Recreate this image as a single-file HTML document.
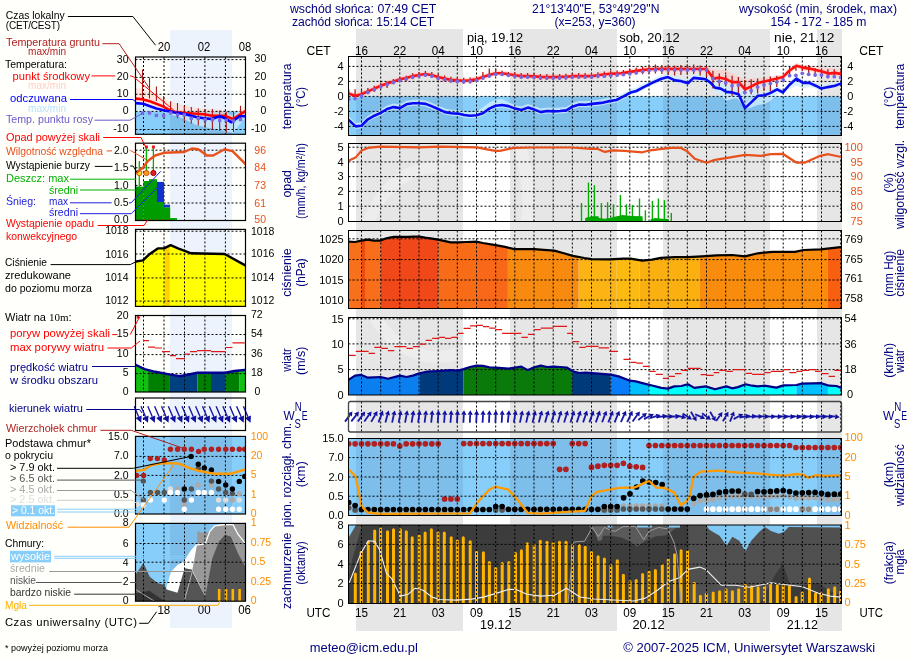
<!DOCTYPE html>
<html><head><meta charset="utf-8"><style>
html,body{margin:0;padding:0;background:#fffffb;}
svg{display:block;font-family:"Liberation Sans",sans-serif;will-change:transform;}
</style></head><body>
<svg width="910" height="660" viewBox="0 0 910 660">
<rect x="0" y="0" width="910" height="660" fill="#fffffb"/>
<rect x="356" y="29" width="107" height="602" fill="#e6e6e6" />
<rect x="510" y="29" width="107" height="602" fill="#e6e6e6" />
<rect x="663" y="29" width="107" height="602" fill="#e6e6e6" />
<rect x="817" y="29" width="25" height="602" fill="#e6e6e6" />
<rect x="349" y="29" width="7" height="602" fill="#ffffff" />
<rect x="463" y="29" width="47" height="602" fill="#ffffff" />
<rect x="617" y="29" width="46" height="602" fill="#ffffff" />
<rect x="770" y="29" width="47" height="602" fill="#ffffff" />
<rect x="170" y="30" width="62" height="598" fill="#edf3fc" />
<clipPath id="cT"><rect x="349" y="56.5" width="492" height="79.0"/></clipPath>
<g clip-path="url(#cT)">
<rect x="349" y="96.4" width="7" height="39.099999999999994" fill="#87cffa" />
<rect x="356" y="96.4" width="107" height="39.099999999999994" fill="#7dbeeb" />
<rect x="463" y="96.4" width="47" height="39.099999999999994" fill="#87cffa" />
<rect x="510" y="96.4" width="107" height="39.099999999999994" fill="#7dbeeb" />
<rect x="617" y="96.4" width="46" height="39.099999999999994" fill="#87cffa" />
<rect x="663" y="96.4" width="107" height="39.099999999999994" fill="#7dbeeb" />
<rect x="770" y="96.4" width="47" height="39.099999999999994" fill="#87cffa" />
<rect x="817" y="96.4" width="24" height="39.099999999999994" fill="#7dbeeb" />
<polygon points="346.0,114.5 348.6,116.5 355.7,122.9 361.4,122.2 367.9,115.8 374.3,112.2 380.7,109.4 387.1,105.5 393.6,103.6 400.0,104.6 406.4,100.8 412.9,99.8 419.3,99.8 425.7,100.4 432.1,102.9 438.6,105.8 445.0,108.6 451.4,109.8 457.9,110.1 464.3,111.5 470.0,112.2 476.4,111.8 482.9,107.3 489.3,102.6 495.7,99.7 502.1,99.0 508.6,102.6 515.0,105.1 521.4,106.5 527.9,104.1 534.3,106.1 540.7,108.6 547.1,107.5 553.6,107.9 560.0,107.5 566.4,106.9 572.9,102.9 579.3,101.1 585.7,101.2 592.1,100.4 601.4,99.4 607.9,97.9 616.4,96.5 623.6,92.9 630.7,88.9 636.4,87.5 643.6,83.6 652.1,79.4 660.7,75.5 667.9,73.6 675.0,76.9 680.7,77.5 687.9,79.8 693.6,74.4 700.7,75.6 705.7,76.3 710.7,79.9 715.0,84.6 720.7,85.6 726.4,88.9 732.1,89.4 738.6,91.3 745.0,105.1 751.4,99.1 757.9,92.7 764.3,92.3 770.7,89.9 777.1,86.3 782.9,89.4 789.3,82.0 796.4,75.6 802.9,79.9 809.3,79.9 815.7,82.7 821.4,85.6 827.9,84.1 835.0,82.7 840.7,80.6 846.0,80.0 846.0,85.0 840.7,85.5 835.0,87.4 827.9,88.6 821.4,90.2 815.7,88.5 809.3,87.1 802.9,88.5 796.4,85.6 789.3,88.8 782.9,94.0 777.1,93.8 770.7,100.7 764.3,103.9 757.9,105.0 751.4,107.5 745.0,109.6 738.6,98.3 732.1,99.0 726.4,100.7 720.7,95.3 715.0,92.1 710.7,86.8 705.7,82.6 700.7,81.2 693.6,80.4 687.9,85.8 680.7,83.5 675.0,82.9 667.9,79.6 660.7,81.5 652.1,85.4 643.6,89.6 636.4,93.5 630.7,94.9 623.6,98.9 616.4,102.5 607.9,103.9 601.4,105.4 592.1,106.4 585.7,107.2 579.3,107.1 572.9,108.9 566.4,112.9 560.0,113.5 553.6,113.9 547.1,113.5 540.7,114.6 534.3,112.1 527.9,110.1 521.4,112.5 515.0,111.1 508.6,108.6 502.1,107.5 495.7,108.2 489.3,111.1 482.9,115.8 476.4,117.8 470.0,118.2 464.3,117.5 457.9,116.1 451.4,115.8 445.0,114.6 438.6,111.8 432.1,108.9 425.7,106.4 419.3,105.8 412.9,105.8 406.4,106.8 400.0,110.6 393.6,109.6 387.1,111.5 380.7,115.4 374.3,118.2 367.9,121.8 361.4,128.2 355.7,128.9 348.6,122.5 346.0,120.5" fill="rgba(205,238,255,0.8)" />
<polygon points="706.0,80.0 715.0,82.0 726.0,84.0 745.0,90.0 757.9,90.0 745.0,108.0 732.0,92.4 715.0,87.6" fill="rgba(205,238,255,0.6)" />
<polygon points="346.0,90.2 348.6,90.8 355.0,92.9 361.4,91.5 367.9,88.6 374.3,85.8 380.7,82.9 387.1,80.8 393.6,78.6 400.0,76.5 406.4,75.1 412.9,73.3 419.3,72.2 425.0,71.2 431.4,72.2 437.9,74.3 444.3,75.8 450.7,76.9 457.1,77.6 463.6,77.9 470.0,77.6 476.4,76.5 482.9,74.3 489.3,72.2 495.7,70.5 502.1,70.5 508.6,71.5 515.0,72.5 521.4,73.3 527.9,73.3 534.3,73.6 540.7,74.1 547.1,74.3 553.6,74.3 560.0,74.1 566.4,73.9 572.9,73.3 579.3,73.3 585.7,73.3 592.1,73.3 601.4,71.9 607.9,71.2 614.3,70.8 620.7,70.5 627.1,69.6 633.6,68.6 640.0,67.6 646.4,66.8 652.9,66.2 659.3,66.1 706.4,66.2 713.6,69.0 719.3,69.8 726.4,70.7 732.1,73.3 738.6,76.3 745.0,79.3 751.4,78.6 757.9,77.9 764.3,77.2 770.7,76.5 777.1,75.7 782.9,74.3 789.3,67.9 796.4,62.9 802.9,64.8 809.3,65.8 815.7,66.5 822.1,67.2 828.6,67.9 835.0,68.7 840.7,69.3 846.0,69.3 846.0,76.8 840.7,76.7 835.0,75.7 828.6,76.4 822.1,74.2 815.7,72.8 809.3,71.4 802.9,70.4 796.4,68.5 789.3,73.5 782.9,79.9 777.1,81.4 770.7,82.8 764.3,84.2 757.9,85.7 751.4,89.2 745.0,92.1 738.6,84.9 732.1,84.9 726.4,82.1 719.3,80.4 713.6,81.4 706.4,71.8 659.3,71.7 652.9,71.8 646.4,72.4 640.0,73.2 633.6,74.2 627.1,75.2 620.7,76.1 614.3,76.4 607.9,76.8 601.4,77.5 592.1,78.9 585.7,78.9 579.3,78.9 572.9,78.9 566.4,79.5 560.0,79.7 553.6,79.9 547.1,79.9 540.7,79.7 534.3,79.2 527.9,78.9 521.4,78.9 515.0,78.1 508.6,77.1 502.1,76.1 495.7,76.1 489.3,77.8 482.9,79.9 476.4,82.1 470.0,83.2 463.6,83.5 457.1,83.2 450.7,82.5 444.3,81.4 437.9,79.9 431.4,77.8 425.0,76.8 419.3,77.8 412.9,78.9 406.4,80.7 400.0,82.1 393.6,84.2 387.1,86.4 380.7,88.5 374.3,91.4 367.9,94.2 361.4,97.1 355.0,98.5 348.6,96.4 346.0,95.8" fill="rgba(255,195,190,0.55)" />
</g>
<path d="M348.5 66.4H841.5M348.5 81.4H841.5M348.5 96.4H841.5M348.5 111.4H841.5M348.5 126.4H841.5" stroke="#000" stroke-width="1" stroke-dasharray="2 2" fill="none"/>
<path d="M361.5 56.5V135.5M380.7 56.5V135.5M399.8 56.5V135.5M419.0 56.5V135.5M438.2 56.5V135.5M457.3 56.5V135.5M476.5 56.5V135.5M495.7 56.5V135.5M514.8 56.5V135.5M534.0 56.5V135.5M553.2 56.5V135.5M572.3 56.5V135.5M591.5 56.5V135.5M610.7 56.5V135.5M629.8 56.5V135.5M649.0 56.5V135.5M668.2 56.5V135.5M687.3 56.5V135.5M706.5 56.5V135.5M725.7 56.5V135.5M744.8 56.5V135.5M764.0 56.5V135.5M783.2 56.5V135.5M802.3 56.5V135.5M821.5 56.5V135.5M840.7 56.5V135.5" stroke="#000" stroke-width="1" stroke-dasharray="2 2" fill="none"/>
<g clip-path="url(#cT)">
<path d="M348.7 89.0V98.0M355.1 89.3V97.9M361.5 90.0V97.0M367.9 87.9V93.6M374.3 85.7V92.1M380.7 83.0V88.5M387.1 81.4V87.9M393.4 79.0V84.0M399.8 77.0V82.0M406.2 75.7V81.4M412.6 73.2V79.2M419.0 72.1V78.1M425.4 71.1V77.1M431.8 72.1V78.1M438.2 74.2V80.2M444.6 75.6V81.6M450.9 76.7V82.7M457.3 77.4V83.4M463.7 77.7V83.7M470.1 77.4V83.4M476.5 76.4V81.4M482.9 72.1V79.3M489.3 68.6V76.4M495.7 68.6V75.0M502.1 70.7V75.0M508.4 72.0V76.5M514.8 72.3V78.3M521.2 73.1V79.1M527.6 73.1V79.1M534.0 73.4V79.4M540.4 73.9V79.9M546.8 74.1V80.1M553.2 74.1V80.1M559.6 73.9V79.9M565.9 73.7V79.7M572.3 73.2V79.2M578.7 73.1V79.1M585.1 73.1V79.1M591.5 73.1V79.1M597.9 72.2V78.2M604.3 71.4V77.4M610.7 70.8V76.8M617.1 70.5V76.5M623.4 69.9V75.9M629.8 69.0V75.0M636.2 67.5V74.5M642.6 66.5V74.3M649.0 65.6V73.5M655.4 64.5V73.6M661.8 65.0V74.0M668.2 65.5V75.0M674.6 65.5V75.5M680.9 65.0V75.0M687.3 64.5V74.5M693.7 64.5V74.0M700.1 65.5V75.5M706.5 66.0V77.0M712.9 70.7V88.6M719.3 73.6V86.4M725.7 75.0V85.7M732.1 75.7V95.7M738.4 77.1V93.6M744.8 80.0V92.9M751.2 79.3V94.3M757.6 78.6V93.6M764.0 77.9V90.7M770.4 76.4V91.4M776.8 75.7V87.1M783.2 75.7V80.0M789.6 67.1V74.3M795.9 65.0V70.7M802.3 65.7V70.7M808.7 65.0V73.6M815.1 67.9V76.4M821.5 69.3V76.4M827.9 69.3V78.6M834.3 69.3V77.9M840.7 70.9V76.9" stroke="#a81c1c" stroke-width="1.3" fill="none"/>
<polyline points="346.0,93.0 348.6,93.6 355.0,95.7 361.4,94.3 367.9,91.4 374.3,88.6 380.7,85.7 387.1,83.6 393.6,81.4 400.0,79.3 406.4,77.9 412.9,76.1 419.3,75.0 425.0,74.0 431.4,75.0 437.9,77.1 444.3,78.6 450.7,79.7 457.1,80.4 463.6,80.7 470.0,80.4 476.4,79.3 482.9,77.1 489.3,75.0 495.7,73.3 502.1,73.3 508.6,74.3 515.0,75.3 521.4,76.1 527.9,76.1 534.3,76.4 540.7,76.9 547.1,77.1 553.6,77.1 560.0,76.9 566.4,76.7 572.9,76.1 579.3,76.1 585.7,76.1 592.1,76.1 601.4,74.7 607.9,74.0 614.3,73.6 620.7,73.3 627.1,72.4 633.6,71.4 640.0,70.4 646.4,69.6 652.9,69.0 659.3,68.9 706.4,69.0 713.6,78.6 719.3,77.6 726.4,79.3 732.1,82.1 738.6,82.1 745.0,89.3 751.4,86.4 757.9,82.9 764.3,81.4 770.7,80.0 777.1,78.6 782.9,77.1 789.3,70.7 796.4,65.7 802.9,67.6 809.3,68.6 815.7,70.0 822.1,71.4 828.6,73.6 835.0,72.9 840.7,73.9 846.0,74.0" fill="none" stroke="#ff1010" stroke-width="2.6" stroke-linejoin="round" />
<polyline points="346.0,118.0 348.6,120.0 355.7,126.4 361.4,125.7 367.9,119.3 374.3,115.7 380.7,112.9 387.1,109.0 393.6,107.1 400.0,108.1 406.4,104.3 412.9,103.3 419.3,103.3 425.7,103.9 432.1,106.4 438.6,109.3 445.0,112.1 451.4,113.3 457.9,113.6 464.3,115.0 470.0,115.7 476.4,115.3 482.9,113.3 489.3,108.6 495.7,105.7 502.1,105.0 508.6,106.1 515.0,108.6 521.4,110.0 527.9,107.6 534.3,109.6 540.7,112.1 547.1,111.0 553.6,111.4 560.0,111.0 566.4,110.4 572.9,106.4 579.3,104.6 585.7,104.7 592.1,103.9 601.4,102.9 607.9,101.4 616.4,100.0 623.6,96.4 630.7,92.4 636.4,91.0 643.6,87.1 652.1,82.9 660.7,79.0 667.9,77.1 675.0,80.4 680.7,81.0 687.9,83.3 693.6,77.9 700.7,78.6 705.7,79.3 710.7,82.9 715.0,87.6 720.7,88.6 726.4,91.9 732.1,92.4 738.6,94.3 745.0,108.1 751.4,102.1 757.9,95.7 764.3,95.3 770.7,92.9 777.1,89.3 782.9,92.4 789.3,85.0 796.4,78.6 802.9,82.9 809.3,82.9 815.7,85.7 821.4,88.6 827.9,87.1 835.0,85.7 840.7,83.6 846.0,83.0" fill="none" stroke="#0a0af0" stroke-width="2.6" stroke-linejoin="round" />
<g fill="#7868e0"><circle cx="348.7" cy="99.3" r="1.9"/><circle cx="355.1" cy="98.6" r="1.9"/><circle cx="361.5" cy="96.0" r="1.9"/><circle cx="367.9" cy="92.4" r="1.9"/><circle cx="374.3" cy="89.6" r="1.9"/><circle cx="380.7" cy="86.7" r="1.9"/><circle cx="387.1" cy="84.6" r="1.9"/><circle cx="393.4" cy="82.5" r="1.9"/><circle cx="399.8" cy="80.4" r="1.9"/><circle cx="406.2" cy="78.9" r="1.9"/><circle cx="412.6" cy="77.2" r="1.9"/><circle cx="419.0" cy="76.1" r="1.9"/><circle cx="425.4" cy="75.1" r="1.9"/><circle cx="431.8" cy="76.1" r="1.9"/><circle cx="438.2" cy="78.2" r="1.9"/><circle cx="444.6" cy="79.6" r="1.9"/><circle cx="450.9" cy="80.7" r="1.9"/><circle cx="457.3" cy="81.4" r="1.9"/><circle cx="463.7" cy="81.7" r="1.9"/><circle cx="470.1" cy="81.4" r="1.9"/><circle cx="476.5" cy="80.3" r="1.9"/><circle cx="482.9" cy="78.1" r="1.9"/><circle cx="489.3" cy="76.0" r="1.9"/><circle cx="495.7" cy="74.3" r="1.9"/><circle cx="502.1" cy="74.3" r="1.9"/><circle cx="508.4" cy="75.3" r="1.9"/><circle cx="514.8" cy="76.3" r="1.9"/><circle cx="521.2" cy="77.1" r="1.9"/><circle cx="527.6" cy="77.1" r="1.9"/><circle cx="534.0" cy="77.4" r="1.9"/><circle cx="540.4" cy="77.9" r="1.9"/><circle cx="546.8" cy="78.1" r="1.9"/><circle cx="553.2" cy="78.1" r="1.9"/><circle cx="559.6" cy="77.9" r="1.9"/><circle cx="565.9" cy="77.7" r="1.9"/><circle cx="572.3" cy="77.2" r="1.9"/><circle cx="578.7" cy="77.1" r="1.9"/><circle cx="585.1" cy="77.1" r="1.9"/><circle cx="591.5" cy="77.1" r="1.9"/><circle cx="597.9" cy="76.0" r="1.9"/><circle cx="604.3" cy="76.2" r="1.9"/><circle cx="610.7" cy="75.6" r="1.9"/><circle cx="617.1" cy="75.0" r="1.9"/><circle cx="623.4" cy="74.6" r="1.9"/><circle cx="629.8" cy="73.8" r="1.9"/><circle cx="636.2" cy="72.8" r="1.9"/><circle cx="642.6" cy="71.6" r="1.9"/><circle cx="649.0" cy="70.6" r="1.9"/><circle cx="655.4" cy="70.0" r="1.9"/><circle cx="661.8" cy="69.9" r="1.9"/><circle cx="668.2" cy="69.9" r="1.9"/><circle cx="674.6" cy="69.9" r="1.9"/><circle cx="680.9" cy="69.9" r="1.9"/><circle cx="687.3" cy="70.0" r="1.9"/><circle cx="693.7" cy="70.0" r="1.9"/><circle cx="700.1" cy="70.0" r="1.9"/><circle cx="706.5" cy="70.1" r="1.9"/><circle cx="712.9" cy="78.7" r="1.9"/><circle cx="719.3" cy="81.4" r="1.9"/><circle cx="725.7" cy="82.9" r="1.9"/><circle cx="732.1" cy="85.7" r="1.9"/><circle cx="738.4" cy="85.0" r="1.9"/><circle cx="744.8" cy="92.4" r="1.9"/><circle cx="751.2" cy="90.7" r="1.9"/><circle cx="757.6" cy="87.1" r="1.9"/><circle cx="764.0" cy="85.0" r="1.9"/><circle cx="770.4" cy="83.6" r="1.9"/><circle cx="776.8" cy="82.1" r="1.9"/><circle cx="783.2" cy="80.0" r="1.9"/><circle cx="789.6" cy="75.7" r="1.9"/><circle cx="795.9" cy="75.3" r="1.9"/><circle cx="802.3" cy="73.3" r="1.9"/><circle cx="808.7" cy="74.3" r="1.9"/><circle cx="815.1" cy="75.0" r="1.9"/><circle cx="821.5" cy="75.0" r="1.9"/><circle cx="827.9" cy="76.4" r="1.9"/><circle cx="834.3" cy="76.7" r="1.9"/><circle cx="840.7" cy="77.6" r="1.9"/></g>
</g>
<rect x="348.5" y="56.5" width="493.0" height="79.0" fill="none" stroke="#000" stroke-width="1"/>
<clipPath id="cO"><rect x="349" y="143.5" width="492" height="78.0"/></clipPath>
<g clip-path="url(#cO)" opacity="0.3"><path d="M456.7 170.2A76 95 0 1 0 456.7 353.8" stroke="#fff" stroke-width="12" fill="none"/><path d="M519 143C529 180 531 200 527 222" stroke="#fff" stroke-width="13" fill="none"/></g>
<path d="M348.5 147.2H841.5M348.5 161.9H841.5M348.5 176.6H841.5M348.5 191.4H841.5M348.5 206.2H841.5" stroke="#000" stroke-width="1" stroke-dasharray="2 2" fill="none"/>
<path d="M361.5 143.5V221.5M380.7 143.5V221.5M399.8 143.5V221.5M419.0 143.5V221.5M438.2 143.5V221.5M457.3 143.5V221.5M476.5 143.5V221.5M495.7 143.5V221.5M514.8 143.5V221.5M534.0 143.5V221.5M553.2 143.5V221.5M572.3 143.5V221.5M591.5 143.5V221.5M610.7 143.5V221.5M629.8 143.5V221.5M649.0 143.5V221.5M668.2 143.5V221.5M687.3 143.5V221.5M706.5 143.5V221.5M725.7 143.5V221.5M744.8 143.5V221.5M764.0 143.5V221.5M783.2 143.5V221.5M802.3 143.5V221.5M821.5 143.5V221.5M840.7 143.5V221.5" stroke="#000" stroke-width="1" stroke-dasharray="2 2" fill="none"/>
<g clip-path="url(#cO)">
<path d="M581.5 221V203M588.5 221V182.5M594.4 221V185.2M601.4 221V203M607.6 221V202.3M613.5 221V204.3M620.4 221V195M626.4 221V204.3M632.4 221V205M639.5 221V198.4M645.4 221V210.2M652.4 221V201M658.4 221V198.4M664.4 221V200.3M671.3 221V212.9" stroke="#00b000" stroke-width="1.4" fill="none"/>
<polygon points="585.2,221.0 585.2,218.1 591.8,216.2 598.4,216.2 599.0,218.1 605.0,218.8 609.6,218.1 616.8,216.2 622.7,215.1 630.7,215.9 642.5,216.2 642.8,221.0" fill="#00a800" />
<polygon points="650.4,221.0 650.4,219.5 655.0,218.1 662.3,218.8 668.2,219.0 668.6,221.0" fill="#00a800" />
<polyline points="346.0,161.5 348.5,160.7 355.5,157.6 361.7,150.5 367.9,147.9 380.2,146.7 418.8,147.4 440.0,146.7 476.9,147.4 485.7,149.1 495.3,150.9 500.0,150.9 513.8,147.9 533.6,147.5 571.2,147.5 591.0,148.9 597.9,148.9 604.8,151.9 612.7,150.3 624.6,150.9 642.4,152.3 650.3,150.3 670.1,147.9 680.9,147.9 686.8,150.9 694.7,158.8 706.6,162.7 713.5,160.2 727.4,157.8 745.2,154.8 761.0,155.8 770.9,154.2 782.7,153.8 796.6,162.7 804.5,162.7 820.3,155.8 828.2,154.2 840.1,156.8 846.0,157.0" fill="none" stroke="#e8501c" stroke-width="2.2" stroke-linejoin="round" />
</g>
<rect x="348.5" y="143.5" width="493.0" height="78.0" fill="none" stroke="#000" stroke-width="1"/>
<clipPath id="cP"><rect x="349" y="230.5" width="492" height="78.0"/></clipPath>
<g clip-path="url(#cP)">
<rect x="349" y="230.5" width="12.399999999999977" height="78.0" fill="#f8701c" />
<rect x="361.4" y="230.5" width="3.6000000000000227" height="78.0" fill="#ee4a14" />
<rect x="365" y="230.5" width="15.699999999999989" height="78.0" fill="#f86e1a" />
<rect x="380.7" y="230.5" width="57.900000000000034" height="78.0" fill="#f04818" />
<rect x="438.6" y="230.5" width="38.39999999999998" height="78.0" fill="#f86c18" />
<rect x="477" y="230.5" width="30.899999999999977" height="78.0" fill="#f86818" />
<rect x="507.9" y="230.5" width="70.70000000000005" height="78.0" fill="#f88a10" />
<rect x="578.6" y="230.5" width="37.799999999999955" height="78.0" fill="#fbb414" />
<rect x="616.4" y="230.5" width="22.899999999999977" height="78.0" fill="#fdbb12" />
<rect x="639.3" y="230.5" width="60.700000000000045" height="78.0" fill="#fbb012" />
<rect x="700" y="230.5" width="127.89999999999998" height="78.0" fill="#f98c0c" />
<rect x="827.9" y="230.5" width="13.100000000000023" height="78.0" fill="#f86010" />
<polygon points="346.0,229.5 346.0,241.5 348.6,241.6 355.0,242.0 361.4,240.6 367.9,239.7 373.6,240.6 380.0,240.6 386.4,238.3 393.6,236.9 407.9,236.9 413.6,236.6 419.3,236.6 425.0,237.7 432.1,238.7 437.9,239.7 445.0,241.1 450.7,242.3 457.9,242.3 466.4,242.0 476.4,241.6 482.9,243.0 495.7,245.1 505.0,246.9 514.3,249.1 534.3,249.1 547.1,250.1 554.3,250.6 562.9,253.0 572.9,255.9 584.3,258.0 591.4,259.1 609.3,259.3 623.6,258.6 630.7,258.6 642.1,260.7 652.1,259.7 660.7,257.9 675.0,257.1 687.9,257.1 702.1,256.4 716.4,255.4 732.1,255.0 745.0,256.4 757.9,253.3 772.1,251.9 795.0,251.9 803.6,250.0 820.7,249.3 840.7,247.1 846.0,247.0 845.0,229.5" fill="#fff"/>
</g>
<g clip-path="url(#cP)">
<clipPath id="cPabove"><polygon points="346.0,229.5 346.0,241.5 348.6,241.6 355.0,242.0 361.4,240.6 367.9,239.7 373.6,240.6 380.0,240.6 386.4,238.3 393.6,236.9 407.9,236.9 413.6,236.6 419.3,236.6 425.0,237.7 432.1,238.7 437.9,239.7 445.0,241.1 450.7,242.3 457.9,242.3 466.4,242.0 476.4,241.6 482.9,243.0 495.7,245.1 505.0,246.9 514.3,249.1 534.3,249.1 547.1,250.1 554.3,250.6 562.9,253.0 572.9,255.9 584.3,258.0 591.4,259.1 609.3,259.3 623.6,258.6 630.7,258.6 642.1,260.7 652.1,259.7 660.7,257.9 675.0,257.1 687.9,257.1 702.1,256.4 716.4,255.4 732.1,255.0 745.0,256.4 757.9,253.3 772.1,251.9 795.0,251.9 803.6,250.0 820.7,249.3 840.7,247.1 846.0,247.0 845.0,229.5"/></clipPath>
<g clip-path="url(#cPabove)">
<rect x="349" y="230.5" width="7" height="78.0" fill="#ffffff" />
<rect x="356" y="230.5" width="107" height="78.0" fill="#e6e6e6" />
<rect x="463" y="230.5" width="47" height="78.0" fill="#ffffff" />
<rect x="510" y="230.5" width="107" height="78.0" fill="#e6e6e6" />
<rect x="617" y="230.5" width="46" height="78.0" fill="#ffffff" />
<rect x="663" y="230.5" width="107" height="78.0" fill="#e6e6e6" />
<rect x="770" y="230.5" width="47" height="78.0" fill="#ffffff" />
<rect x="817" y="230.5" width="24" height="78.0" fill="#e6e6e6" />
</g>
</g>
<path d="M348.5 238.8H841.5M348.5 259.6H841.5M348.5 280.0H841.5M348.5 300.1H841.5" stroke="#000" stroke-width="1" stroke-dasharray="2 2" fill="none"/>
<path d="M361.5 230.5V308.5M380.7 230.5V308.5M399.8 230.5V308.5M419.0 230.5V308.5M438.2 230.5V308.5M457.3 230.5V308.5M476.5 230.5V308.5M495.7 230.5V308.5M514.8 230.5V308.5M534.0 230.5V308.5M553.2 230.5V308.5M572.3 230.5V308.5M591.5 230.5V308.5M610.7 230.5V308.5M629.8 230.5V308.5M649.0 230.5V308.5M668.2 230.5V308.5M687.3 230.5V308.5M706.5 230.5V308.5M725.7 230.5V308.5M744.8 230.5V308.5M764.0 230.5V308.5M783.2 230.5V308.5M802.3 230.5V308.5M821.5 230.5V308.5M840.7 230.5V308.5" stroke="#000" stroke-width="1" stroke-dasharray="2 2" fill="none"/>
<g clip-path="url(#cP)">
<polyline points="346.0,241.5 348.6,241.6 355.0,242.0 361.4,240.6 367.9,239.7 373.6,240.6 380.0,240.6 386.4,238.3 393.6,236.9 407.9,236.9 413.6,236.6 419.3,236.6 425.0,237.7 432.1,238.7 437.9,239.7 445.0,241.1 450.7,242.3 457.9,242.3 466.4,242.0 476.4,241.6 482.9,243.0 495.7,245.1 505.0,246.9 514.3,249.1 534.3,249.1 547.1,250.1 554.3,250.6 562.9,253.0 572.9,255.9 584.3,258.0 591.4,259.1 609.3,259.3 623.6,258.6 630.7,258.6 642.1,260.7 652.1,259.7 660.7,257.9 675.0,257.1 687.9,257.1 702.1,256.4 716.4,255.4 732.1,255.0 745.0,256.4 757.9,253.3 772.1,251.9 795.0,251.9 803.6,250.0 820.7,249.3 840.7,247.1 846.0,247.0" fill="none" stroke="#000" stroke-width="2.2" stroke-linejoin="round" />
</g>
<rect x="348.5" y="230.5" width="493.0" height="78.0" fill="none" stroke="#000" stroke-width="1"/>
<clipPath id="cV"><rect x="349" y="317.5" width="492" height="77.5"/></clipPath>
<g clip-path="url(#cV)">
<clipPath id="cVw"><polygon points="346.0,397.0 346.0,381.0 348.6,379.9 355.0,375.6 361.4,374.9 367.9,377.7 380.7,377.0 387.9,378.7 400.0,375.6 406.4,377.0 412.9,375.6 419.3,373.4 426.4,371.7 437.9,371.0 450.7,370.1 457.9,370.6 463.6,369.1 470.0,367.0 476.4,365.6 482.9,365.9 489.3,367.3 495.7,367.7 508.6,368.7 515.0,367.7 521.4,366.7 527.9,370.1 534.3,367.3 540.7,365.6 547.1,367.0 553.6,366.7 560.0,367.0 567.1,367.7 572.9,371.3 579.3,373.0 585.7,372.7 598.6,373.6 610.7,374.7 618.6,376.4 630.0,380.7 635.7,381.4 644.3,383.6 650.0,385.0 661.4,387.9 667.9,388.6 674.3,386.4 681.4,386.0 687.9,384.3 694.3,387.9 705.7,386.4 715.0,389.3 726.4,386.4 732.1,388.3 737.9,387.1 745.7,384.3 752.1,385.7 757.9,386.4 764.3,385.7 776.4,387.6 783.6,385.4 796.4,385.0 802.1,383.6 812.1,383.3 820.7,383.1 829.3,385.7 836.4,386.0 841.4,387.9 846.0,388.0 845.0,397.0"/></clipPath>
<g clip-path="url(#cVw)">
<rect x="349" y="317.5" width="70.30000000000001" height="77.5" fill="#0a80f0" />
<rect x="419.3" y="317.5" width="44.30000000000001" height="77.5" fill="#003a7a" />
<rect x="463.6" y="317.5" width="108.5" height="77.5" fill="#0a7a0a" />
<rect x="572.1" y="317.5" width="38.60000000000002" height="77.5" fill="#003a7a" />
<rect x="610.7" y="317.5" width="19.299999999999955" height="77.5" fill="#0a7cf8" />
<rect x="630" y="317.5" width="19.299999999999955" height="77.5" fill="#00c0ff" />
<rect x="649.3" y="317.5" width="147.10000000000002" height="77.5" fill="#00ffff" />
<rect x="796.4" y="317.5" width="31.5" height="77.5" fill="#00c0ff" />
<rect x="827.9" y="317.5" width="13.100000000000023" height="77.5" fill="#00ffff" />
</g>
</g>
<clipPath id="cVa"><polygon points="346.0,317.5 346.0,381.0 348.6,379.9 355.0,375.6 361.4,374.9 367.9,377.7 380.7,377.0 387.9,378.7 400.0,375.6 406.4,377.0 412.9,375.6 419.3,373.4 426.4,371.7 437.9,371.0 450.7,370.1 457.9,370.6 463.6,369.1 470.0,367.0 476.4,365.6 482.9,365.9 489.3,367.3 495.7,367.7 508.6,368.7 515.0,367.7 521.4,366.7 527.9,370.1 534.3,367.3 540.7,365.6 547.1,367.0 553.6,366.7 560.0,367.0 567.1,367.7 572.9,371.3 579.3,373.0 585.7,372.7 598.6,373.6 610.7,374.7 618.6,376.4 630.0,380.7 635.7,381.4 644.3,383.6 650.0,385.0 661.4,387.9 667.9,388.6 674.3,386.4 681.4,386.0 687.9,384.3 694.3,387.9 705.7,386.4 715.0,389.3 726.4,386.4 732.1,388.3 737.9,387.1 745.7,384.3 752.1,385.7 757.9,386.4 764.3,385.7 776.4,387.6 783.6,385.4 796.4,385.0 802.1,383.6 812.1,383.3 820.7,383.1 829.3,385.7 836.4,386.0 841.4,387.9 846.0,388.0 846.0,317.5"/></clipPath>
<g clip-path="url(#cVa)"><g clip-path="url(#cV)" opacity="0.3"><path d="M456.7 170.2A76 95 0 1 0 456.7 353.8" stroke="#fff" stroke-width="12" fill="none"/></g></g>
<path d="M348.5 318.8H841.5M348.5 343.9H841.5M348.5 369.6H841.5" stroke="#000" stroke-width="1" stroke-dasharray="2 2" fill="none"/>
<path d="M361.5 317.5V395.0M380.7 317.5V395.0M399.8 317.5V395.0M419.0 317.5V395.0M438.2 317.5V395.0M457.3 317.5V395.0M476.5 317.5V395.0M495.7 317.5V395.0M514.8 317.5V395.0M534.0 317.5V395.0M553.2 317.5V395.0M572.3 317.5V395.0M591.5 317.5V395.0M610.7 317.5V395.0M629.8 317.5V395.0M649.0 317.5V395.0M668.2 317.5V395.0M687.3 317.5V395.0M706.5 317.5V395.0M725.7 317.5V395.0M744.8 317.5V395.0M764.0 317.5V395.0M783.2 317.5V395.0M802.3 317.5V395.0M821.5 317.5V395.0M840.7 317.5V395.0" stroke="#000" stroke-width="1" stroke-dasharray="2 2" fill="none"/>
<g clip-path="url(#cV)">
<polyline points="346.0,381.0 348.6,379.9 355.0,375.6 361.4,374.9 367.9,377.7 380.7,377.0 387.9,378.7 400.0,375.6 406.4,377.0 412.9,375.6 419.3,373.4 426.4,371.7 437.9,371.0 450.7,370.1 457.9,370.6 463.6,369.1 470.0,367.0 476.4,365.6 482.9,365.9 489.3,367.3 495.7,367.7 508.6,368.7 515.0,367.7 521.4,366.7 527.9,370.1 534.3,367.3 540.7,365.6 547.1,367.0 553.6,366.7 560.0,367.0 567.1,367.7 572.9,371.3 579.3,373.0 585.7,372.7 598.6,373.6 610.7,374.7 618.6,376.4 630.0,380.7 635.7,381.4 644.3,383.6 650.0,385.0 661.4,387.9 667.9,388.6 674.3,386.4 681.4,386.0 687.9,384.3 694.3,387.9 705.7,386.4 715.0,389.3 726.4,386.4 732.1,388.3 737.9,387.1 745.7,384.3 752.1,385.7 757.9,386.4 764.3,385.7 776.4,387.6 783.6,385.4 796.4,385.0 802.1,383.6 812.1,383.3 820.7,383.1 829.3,385.7 836.4,386.0 841.4,387.9 846.0,388.0" fill="none" stroke="#000088" stroke-width="2.2" stroke-linejoin="round" />
<path d="M348.6 355.3H355.7M355.7 351.3H368.6M368.6 353.4H375M374.3 347.3H381.4M381.4 348.4H387.9M387.9 350.6H394.3M394.3 346.6H400M400 346.6H406.4M406.4 348.4H412.9M412.9 346.6H419.3M419.3 344.1H425.7M425.7 340.3H432.1M432.1 338.4H439.3M439.3 337.4H445M445 338.4H451.4M451.4 337.4H457.9M457.9 333.4H463.6M463.6 328.4H470.7M470 325.9H476.4M476.4 325.3H482.9M482.9 326.7H489.3M489.3 328.1H495.7M495.7 329.6H502.1M502.1 333.4H515M515 333.4H521.4M521.4 337.4H527.9M527.9 334.4H534.3M534.3 329.6H540.7M540.7 328.1H553.6M553.6 326.3H567.1M567.1 333.4H572.9M572.9 341.6H579.3M579.3 347.4H585.7M585.7 346.3H598.6M598.6 347.8H609M609 351.4H618M623.5 359.4H630.7M630.7 362.4H636.4M636.4 363.1H642.9M642.9 366.4H649.3M649.3 371.4H655.7M655.7 374.3H662.9M662.9 378.3H668.6M668.6 376.4H675M675 373.6H681.4M681.4 370.3H687.9M687.9 368.3H700.7M700.7 374.6H706.4M706.4 375.4H713.6M713.6 372.6H719.3M719.3 370.3H726.4M726.4 371.4H732.9M733.6 369.7H745M745.7 373.3H752.1M752.1 374.3H764.3M764.3 372.6H770.7M770.7 371.4H783.6M783.6 369.7H789.3M789.3 372.6H796.4M796.4 371.4H802.1M802.1 370.3H809.3M809.3 369.7H816.4M815 371.4H820.7M821.4 373.6H828.6M828.6 376.4H835M834.3 370.3H840.7" stroke="#e01818" stroke-width="1.2" fill="none"/>
</g>
<rect x="348.5" y="317.5" width="493.0" height="77.5" fill="none" stroke="#000" stroke-width="1"/>
<path d="M361.5 401.5V432.0M380.7 401.5V432.0M399.8 401.5V432.0M419.0 401.5V432.0M438.2 401.5V432.0M457.3 401.5V432.0M476.5 401.5V432.0M495.7 401.5V432.0M514.8 401.5V432.0M534.0 401.5V432.0M553.2 401.5V432.0M572.3 401.5V432.0M591.5 401.5V432.0M610.7 401.5V432.0M629.8 401.5V432.0M649.0 401.5V432.0M668.2 401.5V432.0M687.3 401.5V432.0M706.5 401.5V432.0M725.7 401.5V432.0M744.8 401.5V432.0M764.0 401.5V432.0M783.2 401.5V432.0M802.3 401.5V432.0M821.5 401.5V432.0M840.7 401.5V432.0" stroke="#000" stroke-width="1" stroke-dasharray="2 2" fill="none"/>
<path d="M345.0 421.6L349.8 415.1M351.3 421.4L356.2 415.1M357.8 421.5L362.5 415.1M364.3 421.6L368.9 415.1M371.2 421.9L375.1 415.0M378.5 422.4L381.3 414.9M385.4 422.5L387.5 414.8M392.1 422.6L393.8 414.8M398.6 422.6L400.2 414.8M405.1 422.7L406.5 414.8M411.6 422.7L412.9 414.8M418.1 422.7L419.2 414.8M424.6 422.7L425.6 414.8M431.2 422.7L432.0 414.8M437.7 422.7L438.3 414.8M444.1 422.7L444.7 414.8M450.5 422.7L451.1 414.8M457.0 422.7L457.4 414.8M463.4 422.7L463.8 414.8M469.8 422.7L470.2 414.8M476.2 422.7L476.6 414.8M482.6 422.7L483.0 414.8M489.0 422.7L489.3 414.8M495.4 422.7L495.7 414.8M501.7 422.7L502.1 414.8M507.8 422.7L508.6 414.8M513.8 422.7L515.1 414.8M519.9 422.6L521.6 414.8M526.2 422.6L528.0 414.8M532.5 422.6L534.4 414.8M538.8 422.5L540.8 414.8M545.1 422.5L547.2 414.8M551.4 422.5L553.7 414.8M557.8 422.5L560.1 414.8M564.1 422.5L566.5 414.8M570.4 422.5L572.9 414.8M576.8 422.4L579.3 414.8M583.1 422.4L585.7 414.8M589.4 422.4L592.1 414.8M595.8 422.4L598.5 414.9M602.1 422.3L604.9 414.9M608.3 422.3L611.3 414.9M614.6 422.3L617.7 414.9M620.9 422.2L624.2 414.9M627.2 422.2L630.6 414.9M632.6 421.6L637.2 415.1M638.3 420.0L643.4 415.9M644.1 419.1L649.9 416.0M650.1 418.1L656.3 416.2M656.3 417.3L662.8 416.4M662.7 416.5L669.2 416.5M669.1 416.3L675.6 416.5M675.6 415.1L681.9 416.8M682.6 413.6L688.2 417.0M690.9 411.8L694.2 417.4M695.1 414.2L701.0 416.9M702.1 413.2L707.3 417.1M710.1 411.8L713.4 417.4M716.1 421.0L719.8 415.7M722.9 421.3L726.2 415.6M730.0 421.6L732.4 415.6M733.6 419.1L739.3 416.0M739.4 417.5L745.8 416.3M745.7 417.0L752.2 416.4M752.1 416.5L758.6 416.5M758.5 416.3L765.0 416.5M764.9 416.2L771.4 416.6M771.3 416.1L777.8 416.6M777.7 415.9L784.2 416.6M784.1 415.8L790.5 416.6M790.5 415.6L796.9 416.7M796.9 415.6L803.3 416.7M803.3 415.8L809.7 416.6M809.6 415.9L816.1 416.6M816.0 416.0L822.5 416.6M822.4 415.9L828.9 416.6M828.8 415.7L835.3 416.6" stroke="#1818a8" stroke-width="1.8" fill="none"/>
<path d="M352.4 411.4L351.9 416.6L347.6 413.6ZM358.9 411.6L358.2 416.7L354.1 413.5ZM365.2 411.5L364.6 416.6L360.5 413.5ZM371.5 411.4L371.0 416.6L366.8 413.6ZM377.4 411.1L377.4 416.3L372.9 413.7ZM382.9 410.6L383.7 415.8L378.8 414.0ZM388.7 410.5L390.0 415.5L385.0 414.1ZM394.8 410.4L396.4 415.3L391.3 414.2ZM401.0 410.4L402.7 415.3L397.6 414.3ZM407.3 410.3L409.1 415.2L404.0 414.3ZM413.6 410.3L415.5 415.2L410.3 414.4ZM419.9 410.3L421.8 415.1L416.7 414.4ZM426.1 410.3L428.2 415.1L423.0 414.4ZM432.4 410.3L434.5 415.0L429.4 414.5ZM438.6 410.3L440.9 415.0L435.7 414.6ZM445.0 410.3L447.3 414.9L442.1 414.6ZM451.3 410.3L453.7 414.9L448.5 414.6ZM457.7 410.3L460.0 414.9L454.8 414.6ZM464.1 410.3L466.4 414.9L461.2 414.6ZM470.4 410.3L472.8 414.9L467.6 414.6ZM476.8 410.3L479.2 414.9L474.0 414.6ZM483.2 410.3L485.6 414.9L480.4 414.6ZM489.5 410.3L491.9 414.9L486.8 414.6ZM495.9 410.3L498.3 414.8L493.1 414.7ZM502.4 410.3L504.7 414.9L499.6 414.6ZM509.1 410.3L511.2 415.0L506.0 414.5ZM515.9 410.3L517.7 415.2L512.6 414.3ZM522.5 410.4L524.1 415.3L519.1 414.2ZM529.0 410.4L530.5 415.4L525.5 414.2ZM535.5 410.4L536.9 415.4L531.9 414.2ZM542.0 410.5L543.4 415.5L538.3 414.1ZM548.5 410.5L549.8 415.5L544.7 414.1ZM554.9 410.5L556.2 415.5L551.2 414.1ZM561.3 410.5L562.5 415.6L557.6 414.1ZM567.8 410.5L568.9 415.6L564.0 414.1ZM574.2 410.5L575.3 415.6L570.4 414.0ZM580.7 410.6L581.7 415.7L576.8 414.0ZM587.1 410.6L588.1 415.7L583.2 414.0ZM593.6 410.6L594.5 415.7L589.6 414.0ZM600.0 410.6L600.9 415.7L596.0 414.0ZM606.5 410.7L607.3 415.8L602.5 413.9ZM613.0 410.7L613.7 415.8L608.9 413.9ZM619.5 410.7L620.1 415.9L615.3 413.9ZM626.0 410.8L626.5 416.0L621.8 413.8ZM632.5 410.8L632.9 416.0L628.2 413.8ZM639.9 411.4L639.4 416.6L635.1 413.6ZM646.9 413.0L645.0 417.9L641.8 413.8ZM653.9 413.9L651.1 418.3L648.7 413.7ZM660.6 414.9L657.1 418.7L655.6 413.7ZM667.2 415.7L663.1 418.9L662.4 413.8ZM673.7 416.5L669.2 419.1L669.2 413.9ZM680.1 416.7L675.5 419.1L675.6 413.9ZM686.3 417.9L681.2 419.3L682.6 414.2ZM692.0 419.4L686.8 419.2L689.5 414.8ZM696.6 421.2L692.0 418.7L696.5 416.0ZM705.1 418.8L699.9 419.3L702.1 414.6ZM710.9 419.8L705.7 419.2L708.9 415.0ZM715.7 421.2L711.2 418.7L715.6 416.0ZM722.4 412.0L722.0 417.2L717.7 414.2ZM728.4 411.7L728.4 416.9L723.9 414.3ZM734.1 411.4L734.8 416.6L730.0 414.6ZM743.3 413.9L740.6 418.3L738.1 413.7ZM750.2 415.5L746.3 418.9L745.3 413.8ZM756.7 416.0L752.4 419.0L752.0 413.8ZM763.1 416.5L758.6 419.1L758.6 413.9ZM769.5 416.7L764.9 419.1L765.1 413.9ZM775.9 416.8L771.2 419.2L771.5 414.0ZM782.3 416.9L777.6 419.2L778.0 414.0ZM788.6 417.1L783.9 419.2L784.4 414.0ZM795.0 417.2L790.2 419.2L790.9 414.1ZM801.4 417.4L796.5 419.2L797.3 414.1ZM807.8 417.4L802.9 419.2L803.7 414.1ZM814.2 417.2L809.4 419.2L810.1 414.1ZM820.6 417.1L815.8 419.2L816.4 414.0ZM827.0 417.0L822.3 419.2L822.7 414.0ZM833.4 417.1L828.6 419.2L829.2 414.0ZM839.7 417.3L834.9 419.2L835.6 414.1Z" fill="#1010a0"/>
<rect x="348.5" y="401.5" width="493.0" height="30.5" fill="none" stroke="#444" stroke-width="1.3" rx="2"/>
<clipPath id="cB"><rect x="349" y="438.5" width="492" height="77.0"/></clipPath>
<g clip-path="url(#cB)">
<rect x="349" y="438.5" width="7" height="77.0" fill="#87cffa" />
<rect x="356" y="438.5" width="107" height="77.0" fill="#7dbeeb" />
<rect x="463" y="438.5" width="47" height="77.0" fill="#87cffa" />
<rect x="510" y="438.5" width="107" height="77.0" fill="#7dbeeb" />
<rect x="617" y="438.5" width="46" height="77.0" fill="#87cffa" />
<rect x="663" y="438.5" width="107" height="77.0" fill="#7dbeeb" />
<rect x="770" y="438.5" width="47" height="77.0" fill="#87cffa" />
<rect x="817" y="438.5" width="24" height="77.0" fill="#7dbeeb" />
<g fill="#aaaaaa"><circle cx="623.4" cy="506.0" r="2.85"/><circle cx="629.8" cy="506.0" r="2.85"/><circle cx="636.2" cy="506.0" r="2.85"/><circle cx="642.6" cy="506.0" r="2.85"/><circle cx="649.0" cy="506.0" r="2.85"/><circle cx="655.4" cy="506.0" r="2.85"/><circle cx="661.8" cy="506.0" r="2.85"/><circle cx="693.7" cy="503.3" r="2.85"/><circle cx="700.1" cy="500.6" r="2.85"/><circle cx="706.5" cy="499.9" r="2.85"/><circle cx="712.9" cy="499.4" r="2.85"/><circle cx="719.3" cy="497.4" r="2.85"/><circle cx="725.7" cy="496.7" r="2.85"/><circle cx="732.1" cy="496.0" r="2.85"/><circle cx="738.4" cy="496.0" r="2.85"/><circle cx="744.8" cy="496.0" r="2.85"/><circle cx="751.2" cy="496.3" r="2.85"/><circle cx="757.6" cy="496.5" r="2.85"/><circle cx="764.0" cy="496.8" r="2.85"/><circle cx="770.4" cy="496.4" r="2.85"/><circle cx="776.8" cy="495.9" r="2.85"/><circle cx="783.2" cy="495.5" r="2.85"/><circle cx="789.6" cy="496.6" r="2.85"/><circle cx="795.9" cy="498.0" r="2.85"/><circle cx="802.3" cy="497.8" r="2.85"/><circle cx="808.7" cy="497.6" r="2.85"/><circle cx="815.1" cy="497.4" r="2.85"/><circle cx="821.5" cy="498.3" r="2.85"/><circle cx="827.9" cy="499.4" r="2.85"/><circle cx="834.3" cy="499.2" r="2.85"/><circle cx="840.7" cy="499.0" r="2.85"/></g>
<g fill="#555555"><circle cx="348.7" cy="508.0" r="2.85"/><circle cx="355.1" cy="510.0" r="2.85"/><circle cx="495.7" cy="510.0" r="2.85"/><circle cx="502.1" cy="510.0" r="2.85"/><circle cx="604.3" cy="510.0" r="2.85"/><circle cx="610.7" cy="510.0" r="2.85"/><circle cx="617.1" cy="510.0" r="2.85"/><circle cx="623.4" cy="509.0" r="2.85"/><circle cx="629.8" cy="509.0" r="2.85"/><circle cx="636.2" cy="509.0" r="2.85"/><circle cx="642.6" cy="509.0" r="2.85"/><circle cx="649.0" cy="509.0" r="2.85"/><circle cx="655.4" cy="509.0" r="2.85"/><circle cx="661.8" cy="509.0" r="2.85"/><circle cx="744.8" cy="494.0" r="2.85"/><circle cx="751.2" cy="494.3" r="2.85"/></g>
<g fill="#ffffff"><circle cx="706.5" cy="509.2" r="2.85"/><circle cx="712.9" cy="509.2" r="2.85"/><circle cx="719.3" cy="509.2" r="2.85"/><circle cx="725.7" cy="509.2" r="2.85"/><circle cx="732.1" cy="509.2" r="2.85"/><circle cx="738.4" cy="509.2" r="2.85"/><circle cx="744.8" cy="509.2" r="2.85"/><circle cx="751.2" cy="509.2" r="2.85"/><circle cx="757.6" cy="509.2" r="2.85"/><circle cx="764.0" cy="509.2" r="2.85"/><circle cx="770.4" cy="509.2" r="2.85"/><circle cx="776.8" cy="509.2" r="2.85"/><circle cx="783.2" cy="509.2" r="2.85"/><circle cx="789.6" cy="509.2" r="2.85"/><circle cx="795.9" cy="509.2" r="2.85"/><circle cx="802.3" cy="509.2" r="2.85"/><circle cx="808.7" cy="509.2" r="2.85"/><circle cx="815.1" cy="509.2" r="2.85"/><circle cx="821.5" cy="509.2" r="2.85"/><circle cx="827.9" cy="509.2" r="2.85"/><circle cx="834.3" cy="509.2" r="2.85"/><circle cx="840.7" cy="509.2" r="2.85"/></g>
<g fill="#888888"><circle cx="770.4" cy="509.2" r="2.85"/><circle cx="776.8" cy="509.2" r="2.85"/><circle cx="802.3" cy="509.2" r="2.85"/><circle cx="808.7" cy="509.2" r="2.85"/></g>
<g fill="#000000"><circle cx="348.7" cy="502.5" r="2.85"/><circle cx="355.1" cy="505.5" r="2.85"/><circle cx="361.5" cy="509.5" r="2.85"/><circle cx="367.9" cy="509.5" r="2.85"/><circle cx="374.3" cy="509.5" r="2.85"/><circle cx="380.7" cy="509.5" r="2.85"/><circle cx="387.1" cy="509.5" r="2.85"/><circle cx="393.4" cy="509.5" r="2.85"/><circle cx="399.8" cy="509.5" r="2.85"/><circle cx="406.2" cy="509.5" r="2.85"/><circle cx="412.6" cy="509.5" r="2.85"/><circle cx="419.0" cy="509.5" r="2.85"/><circle cx="425.4" cy="509.5" r="2.85"/><circle cx="431.8" cy="509.5" r="2.85"/><circle cx="438.2" cy="509.5" r="2.85"/><circle cx="444.6" cy="509.5" r="2.85"/><circle cx="450.9" cy="509.5" r="2.85"/><circle cx="457.3" cy="509.5" r="2.85"/><circle cx="463.7" cy="509.5" r="2.85"/><circle cx="470.1" cy="509.5" r="2.85"/><circle cx="476.5" cy="509.5" r="2.85"/><circle cx="482.9" cy="509.5" r="2.85"/><circle cx="489.3" cy="509.5" r="2.85"/><circle cx="495.7" cy="506.5" r="2.85"/><circle cx="502.1" cy="506.5" r="2.85"/><circle cx="508.4" cy="509.3" r="2.85"/><circle cx="514.8" cy="509.3" r="2.85"/><circle cx="521.2" cy="509.3" r="2.85"/><circle cx="527.6" cy="509.3" r="2.85"/><circle cx="534.0" cy="509.3" r="2.85"/><circle cx="540.4" cy="509.3" r="2.85"/><circle cx="546.8" cy="509.3" r="2.85"/><circle cx="553.2" cy="509.3" r="2.85"/><circle cx="559.6" cy="509.3" r="2.85"/><circle cx="565.9" cy="509.3" r="2.85"/><circle cx="572.3" cy="509.3" r="2.85"/><circle cx="578.7" cy="509.3" r="2.85"/><circle cx="585.1" cy="509.3" r="2.85"/><circle cx="591.5" cy="509.3" r="2.85"/><circle cx="597.9" cy="509.3" r="2.85"/><circle cx="604.3" cy="506.5" r="2.85"/><circle cx="610.7" cy="506.5" r="2.85"/><circle cx="617.1" cy="506.5" r="2.85"/><circle cx="668.2" cy="509.0" r="2.85"/><circle cx="674.6" cy="509.0" r="2.85"/><circle cx="680.9" cy="509.0" r="2.85"/><circle cx="687.3" cy="509.0" r="2.85"/><circle cx="693.7" cy="498.3" r="2.85"/><circle cx="700.1" cy="495.6" r="2.85"/><circle cx="706.5" cy="494.9" r="2.85"/><circle cx="712.9" cy="494.4" r="2.85"/><circle cx="719.3" cy="492.4" r="2.85"/><circle cx="725.7" cy="491.7" r="2.85"/><circle cx="732.1" cy="491.0" r="2.85"/><circle cx="738.4" cy="491.0" r="2.85"/><circle cx="757.6" cy="491.5" r="2.85"/><circle cx="764.0" cy="491.8" r="2.85"/><circle cx="770.4" cy="491.4" r="2.85"/><circle cx="776.8" cy="490.9" r="2.85"/><circle cx="783.2" cy="490.5" r="2.85"/><circle cx="789.6" cy="491.6" r="2.85"/><circle cx="795.9" cy="493.0" r="2.85"/><circle cx="802.3" cy="492.8" r="2.85"/><circle cx="808.7" cy="492.6" r="2.85"/><circle cx="815.1" cy="492.4" r="2.85"/><circle cx="821.5" cy="493.3" r="2.85"/><circle cx="827.9" cy="494.4" r="2.85"/><circle cx="834.3" cy="494.2" r="2.85"/><circle cx="840.7" cy="494.0" r="2.85"/><circle cx="623.6" cy="497.8" r="2.85"/><circle cx="630.0" cy="493.8" r="2.85"/><circle cx="636.5" cy="487.0" r="2.85"/><circle cx="642.8" cy="481.0" r="2.85"/><circle cx="649.3" cy="482.0" r="2.85"/><circle cx="655.7" cy="482.5" r="2.85"/><circle cx="662.2" cy="484.5" r="2.85"/></g>
<g fill="#b02020"><circle cx="348.7" cy="443.8" r="2.85"/><circle cx="355.1" cy="443.8" r="2.85"/><circle cx="361.5" cy="443.8" r="2.85"/><circle cx="367.9" cy="443.8" r="2.85"/><circle cx="374.3" cy="443.8" r="2.85"/><circle cx="380.7" cy="443.8" r="2.85"/><circle cx="387.1" cy="443.8" r="2.85"/><circle cx="393.4" cy="443.8" r="2.85"/><circle cx="399.8" cy="446.0" r="2.85"/><circle cx="406.2" cy="443.8" r="2.85"/><circle cx="412.6" cy="443.8" r="2.85"/><circle cx="419.0" cy="443.8" r="2.85"/><circle cx="425.4" cy="443.8" r="2.85"/><circle cx="431.8" cy="443.8" r="2.85"/><circle cx="438.2" cy="443.8" r="2.85"/><circle cx="444.6" cy="499.0" r="2.85"/><circle cx="450.9" cy="499.0" r="2.85"/><circle cx="457.3" cy="499.0" r="2.85"/><circle cx="463.7" cy="443.6" r="2.85"/><circle cx="470.1" cy="443.6" r="2.85"/><circle cx="476.5" cy="443.6" r="2.85"/><circle cx="482.9" cy="443.6" r="2.85"/><circle cx="489.3" cy="443.6" r="2.85"/><circle cx="495.7" cy="443.6" r="2.85"/><circle cx="502.1" cy="443.6" r="2.85"/><circle cx="508.4" cy="443.6" r="2.85"/><circle cx="514.8" cy="443.6" r="2.85"/><circle cx="521.2" cy="443.6" r="2.85"/><circle cx="527.6" cy="443.6" r="2.85"/><circle cx="534.0" cy="443.6" r="2.85"/><circle cx="540.4" cy="443.6" r="2.85"/><circle cx="546.8" cy="443.6" r="2.85"/><circle cx="553.2" cy="443.6" r="2.85"/><circle cx="559.6" cy="469.3" r="2.85"/><circle cx="565.9" cy="469.3" r="2.85"/><circle cx="572.3" cy="443.6" r="2.85"/><circle cx="578.7" cy="443.6" r="2.85"/><circle cx="585.1" cy="443.6" r="2.85"/><circle cx="591.5" cy="467.2" r="2.85"/><circle cx="597.9" cy="466.2" r="2.85"/><circle cx="604.3" cy="465.3" r="2.85"/><circle cx="610.7" cy="465.3" r="2.85"/><circle cx="617.1" cy="465.3" r="2.85"/><circle cx="623.4" cy="463.3" r="2.85"/><circle cx="629.8" cy="466.2" r="2.85"/><circle cx="636.2" cy="466.8" r="2.85"/><circle cx="642.6" cy="467.4" r="2.85"/><circle cx="649.0" cy="445.5" r="2.85"/><circle cx="655.4" cy="445.5" r="2.85"/><circle cx="661.8" cy="445.5" r="2.85"/><circle cx="668.2" cy="445.5" r="2.85"/><circle cx="674.6" cy="445.5" r="2.85"/><circle cx="680.9" cy="445.5" r="2.85"/><circle cx="687.3" cy="445.5" r="2.85"/><circle cx="693.7" cy="445.5" r="2.85"/><circle cx="700.1" cy="445.5" r="2.85"/><circle cx="706.5" cy="445.5" r="2.85"/><circle cx="712.9" cy="445.5" r="2.85"/><circle cx="719.3" cy="445.5" r="2.85"/><circle cx="725.7" cy="445.5" r="2.85"/><circle cx="732.1" cy="445.5" r="2.85"/><circle cx="738.4" cy="445.5" r="2.85"/><circle cx="744.8" cy="445.5" r="2.85"/><circle cx="751.2" cy="445.5" r="2.85"/><circle cx="757.6" cy="445.5" r="2.85"/><circle cx="764.0" cy="445.5" r="2.85"/><circle cx="770.4" cy="445.5" r="2.85"/><circle cx="776.8" cy="445.5" r="2.85"/><circle cx="783.2" cy="445.5" r="2.85"/><circle cx="789.6" cy="445.5" r="2.85"/><circle cx="795.9" cy="447.5" r="2.85"/><circle cx="802.3" cy="447.5" r="2.85"/><circle cx="808.7" cy="447.5" r="2.85"/><circle cx="815.1" cy="447.5" r="2.85"/><circle cx="821.5" cy="447.5" r="2.85"/><circle cx="827.9" cy="447.5" r="2.85"/><circle cx="834.3" cy="447.5" r="2.85"/><circle cx="840.7" cy="447.5" r="2.85"/></g>
<polyline points="346.0,468.0 348.8,469.5 355.4,476.1 361.7,506.4 367.9,512.5 380.0,513.8 469.8,513.4 478.6,501.0 489.2,489.7 495.3,486.7 505.0,488.8 507.9,489.4 514.8,496.4 527.7,512.8 539.6,513.6 585.0,510.8 591.4,496.4 597.0,491.8 610.8,489.4 618.7,487.9 634.5,487.5 638.4,485.9 646.4,481.9 649.3,481.1 656.2,487.5 664.2,487.9 674.0,492.4 680.9,505.3 686.8,501.3 689.8,495.4 693.7,476.6 700.7,471.6 719.4,470.7 727.4,471.6 739.2,472.6 755.0,473.2 768.9,474.6 784.7,475.6 796.6,474.0 804.5,475.2 808.4,478.0 815.4,475.2 824.3,476.0 845.0,475.2" fill="none" stroke="#ff9a00" stroke-width="2.3" stroke-linejoin="round" />
</g>
<path d="M348.5 457.6H841.5M348.5 477.0H841.5M348.5 496.2H841.5" stroke="#000" stroke-width="1" stroke-dasharray="2 2" fill="none"/>
<path d="M361.5 438.5V515.5M380.7 438.5V515.5M399.8 438.5V515.5M419.0 438.5V515.5M438.2 438.5V515.5M457.3 438.5V515.5M476.5 438.5V515.5M495.7 438.5V515.5M514.8 438.5V515.5M534.0 438.5V515.5M553.2 438.5V515.5M572.3 438.5V515.5M591.5 438.5V515.5M610.7 438.5V515.5M629.8 438.5V515.5M649.0 438.5V515.5M668.2 438.5V515.5M687.3 438.5V515.5M706.5 438.5V515.5M725.7 438.5V515.5M744.8 438.5V515.5M764.0 438.5V515.5M783.2 438.5V515.5M802.3 438.5V515.5M821.5 438.5V515.5M840.7 438.5V515.5" stroke="#000" stroke-width="1" stroke-dasharray="2 2" fill="none"/>
<rect x="348.5" y="438.5" width="493.0" height="77.0" fill="none" stroke="#000" stroke-width="1"/>
<clipPath id="cC"><rect x="349" y="525.0" width="492" height="78.5"/></clipPath>
<g clip-path="url(#cC)">
<rect x="349" y="525.0" width="492" height="78.5" fill="#3c3c3c" />
<polygon points="349.0,525.0 362.0,525.0 352.0,560.0 349.0,575.0" fill="#555555" />
<polygon points="349.0,525.0 356.0,525.0 349.0,537.0" fill="#87cffa" />
<polygon points="680.0,525.0 841.0,525.0 841.0,603.5 680.0,603.5" fill="#505050" />
<polygon points="705.7,525.0 709.7,529.9 719.6,535.8 726.5,545.7 732.4,536.8 739.3,540.8 745.3,551.6 751.2,540.8 759.1,531.9 765.0,526.9 771.0,530.9 778.9,533.8 783.8,531.9 788.8,526.9 841.0,527.4 841.0,525.0" fill="#80c8f4" />
<polygon points="589.0,525.0 683.0,525.0 683.0,526.6 675.4,528.2 667.7,535.1 655.4,536.6 646.2,540.5 636.9,546.6 629.2,541.2 621.5,537.4 610.8,535.8 600.0,535.8 589.0,527.0" fill="#5a5a5a" />
<polygon points="593.0,527.0 604.0,527.0 602.0,540.0 598.0,541.0" fill="#666666" />
<rect x="607.7" y="525.0" width="4.599999999999909" height="2.5" fill="#80c8f4" />
<rect x="637" y="525.0" width="15" height="2.5" fill="#80c8f4" />
<rect x="667.7" y="525.0" width="12.299999999999955" height="2.5" fill="#80c8f4" />
<polygon points="760.0,603.0 775.0,575.0 782.8,563.5 790.8,587.2 818.4,583.3 830.3,591.2 841.0,595.0 841.0,603.0" fill="#3a3a3a" />
<polygon points="680.0,525.0 688.0,525.0 690.0,603.0 680.0,603.0" fill="#3c3c3c" />
</g>
<g clip-path="url(#cC)">
<g fill="#ffb400"><rect x="353.8" y="572.4" width="3" height="32.6" rx="1.5"/><rect x="359.7" y="550.7" width="3" height="54.3" rx="1.5"/><rect x="366.8" y="540.8" width="3" height="64.2" rx="1.5"/><rect x="373.2" y="529.5" width="3" height="75.5" rx="1.5"/><rect x="379.1" y="527.5" width="3" height="77.5" rx="1.5"/><rect x="386.0" y="530.3" width="3" height="74.7" rx="1.5"/><rect x="392.0" y="528.3" width="3" height="76.7" rx="1.5"/><rect x="398.9" y="528.3" width="3" height="76.7" rx="1.5"/><rect x="404.8" y="530.3" width="3" height="74.7" rx="1.5"/><rect x="410.7" y="536.2" width="3" height="68.8" rx="1.5"/><rect x="417.7" y="534.2" width="3" height="70.8" rx="1.5"/><rect x="423.6" y="531.5" width="3" height="73.5" rx="1.5"/><rect x="429.9" y="528.3" width="3" height="76.7" rx="1.5"/><rect x="436.5" y="531.5" width="3" height="73.5" rx="1.5"/><rect x="442.8" y="531.5" width="3" height="73.5" rx="1.5"/><rect x="449.7" y="536.2" width="3" height="68.8" rx="1.5"/><rect x="455.8" y="539.4" width="3" height="65.6" rx="1.5"/><rect x="461.8" y="536.2" width="3" height="68.8" rx="1.5"/><rect x="468.7" y="540.2" width="3" height="64.8" rx="1.5"/><rect x="475.0" y="550.7" width="3" height="54.3" rx="1.5"/><rect x="481.9" y="551.2" width="3" height="53.8" rx="1.5"/><rect x="487.9" y="561.1" width="3" height="43.9" rx="1.5"/><rect x="494.2" y="567.1" width="3" height="37.9" rx="1.5"/><rect x="500.7" y="561.9" width="3" height="43.1" rx="1.5"/><rect x="507.3" y="561.1" width="3" height="43.9" rx="1.5"/><rect x="514.0" y="552.0" width="3" height="53.0" rx="1.5"/><rect x="519.9" y="549.3" width="3" height="55.7" rx="1.5"/><rect x="525.8" y="542.2" width="3" height="62.8" rx="1.5"/><rect x="532.7" y="544.1" width="3" height="60.9" rx="1.5"/><rect x="538.8" y="539.8" width="3" height="65.2" rx="1.5"/><rect x="545.5" y="540.8" width="3" height="64.2" rx="1.5"/><rect x="551.7" y="541.8" width="3" height="63.2" rx="1.5"/><rect x="558.0" y="540.8" width="3" height="64.2" rx="1.5"/><rect x="564.5" y="540.8" width="3" height="64.2" rx="1.5"/><rect x="570.9" y="544.1" width="3" height="60.9" rx="1.5"/><rect x="577.8" y="544.1" width="3" height="60.9" rx="1.5"/><rect x="583.7" y="545.7" width="3" height="59.3" rx="1.5"/><rect x="590.0" y="551.1" width="3" height="53.9" rx="1.5"/><rect x="596.6" y="555.2" width="3" height="49.8" rx="1.5"/><rect x="602.9" y="557.6" width="3" height="47.4" rx="1.5"/><rect x="609.4" y="563.9" width="3" height="41.1" rx="1.5"/><rect x="615.8" y="559.2" width="3" height="45.8" rx="1.5"/><rect x="621.9" y="573.8" width="3" height="31.2" rx="1.5"/><rect x="628.6" y="580.3" width="3" height="24.7" rx="1.5"/><rect x="634.7" y="578.9" width="3" height="26.1" rx="1.5"/><rect x="641.1" y="573.0" width="3" height="32.0" rx="1.5"/><rect x="647.6" y="570.4" width="3" height="34.6" rx="1.5"/><rect x="653.9" y="569.0" width="3" height="36.0" rx="1.5"/><rect x="660.8" y="563.9" width="3" height="41.1" rx="1.5"/><rect x="666.8" y="558.2" width="3" height="46.8" rx="1.5"/><rect x="673.1" y="553.2" width="3" height="51.8" rx="1.5"/><rect x="679.6" y="549.3" width="3" height="55.7" rx="1.5"/><rect x="686.0" y="550.1" width="3" height="54.9" rx="1.5"/><rect x="692.7" y="581.7" width="3" height="23.3" rx="1.5"/><rect x="698.9" y="594.8" width="3" height="10.2" rx="1.5"/><rect x="704.8" y="592.8" width="3" height="12.2" rx="1.5"/><rect x="711.7" y="591.6" width="3" height="13.4" rx="1.5"/><rect x="718.1" y="590.2" width="3" height="14.8" rx="1.5"/><rect x="724.6" y="588.2" width="3" height="16.8" rx="1.5"/><rect x="730.9" y="590.2" width="3" height="14.8" rx="1.5"/><rect x="737.2" y="588.2" width="3" height="16.8" rx="1.5"/><rect x="743.8" y="583.7" width="3" height="21.3" rx="1.5"/><rect x="750.1" y="585.3" width="3" height="19.7" rx="1.5"/><rect x="756.6" y="586.3" width="3" height="18.7" rx="1.5"/><rect x="763.0" y="585.3" width="3" height="19.7" rx="1.5"/><rect x="769.1" y="583.3" width="3" height="21.7" rx="1.5"/><rect x="775.8" y="584.3" width="3" height="20.7" rx="1.5"/><rect x="781.7" y="584.3" width="3" height="20.7" rx="1.5"/><rect x="787.9" y="584.9" width="3" height="20.1" rx="1.5"/><rect x="794.6" y="596.1" width="3" height="8.9" rx="1.5"/><rect x="800.7" y="591.6" width="3" height="13.4" rx="1.5"/><rect x="808.0" y="577.4" width="3" height="27.6" rx="1.5"/><rect x="814.0" y="592.2" width="3" height="12.8" rx="1.5"/><rect x="819.5" y="592.2" width="3" height="12.8" rx="1.5"/><rect x="826.8" y="588.2" width="3" height="16.8" rx="1.5"/><rect x="833.2" y="586.3" width="3" height="18.7" rx="1.5"/><rect x="839.1" y="590.2" width="3" height="14.8" rx="1.5"/></g>
<polyline points="346.0,590.0 349.0,583.3 361.2,552.6 368.3,540.8 374.7,541.4 379.6,549.7 386.5,573.4 391.5,578.3 400.4,596.1 408.3,594.2 415.2,588.2 423.1,590.2 432.0,597.1 439.9,599.5 455.8,600.1 471.6,599.1 483.4,597.1 495.3,593.6 509.2,589.2 516.1,589.6 526.9,594.2 540.7,596.1 554.6,595.2 566.4,588.2 580.0,597.0 594.0,599.0 633.7,601.0 645.5,598.1 657.4,590.2 669.3,581.3 680.0,577.4 687.9,569.4 699.8,567.1 705.7,569.4 711.6,575.4 721.5,585.3 735.4,585.3 749.2,587.2 759.1,585.3 771.0,582.9 790.8,585.3 802.6,586.8 818.4,593.2 830.3,596.1 845.0,597.5" fill="none" stroke="#f0f0f0" stroke-width="1.1" stroke-linejoin="round" />
<polyline points="568.0,603.0 573.8,542.0 584.6,541.2 592.3,527.4 598.5,536.6 604.6,527.4 610.8,530.5 615.4,531.2 623.0,526.6 635.4,526.6 643.8,539.7 649.2,531.2 658.5,527.4 667.7,528.9 673.8,542.0 676.9,554.3 681.0,603.0" fill="none" stroke="#a0a0a0" stroke-width="1" stroke-linejoin="round" />
</g>
<path d="M348.5 544.4H841.5M348.5 564.2H841.5M348.5 583.6H841.5" stroke="#000" stroke-width="1" stroke-dasharray="2 2" fill="none"/>
<path d="M361.5 525.0V603.5M380.7 525.0V603.5M399.8 525.0V603.5M419.0 525.0V603.5M438.2 525.0V603.5M457.3 525.0V603.5M476.5 525.0V603.5M495.7 525.0V603.5M514.8 525.0V603.5M534.0 525.0V603.5M553.2 525.0V603.5M572.3 525.0V603.5M591.5 525.0V603.5M610.7 525.0V603.5M629.8 525.0V603.5M649.0 525.0V603.5M668.2 525.0V603.5M687.3 525.0V603.5M706.5 525.0V603.5M725.7 525.0V603.5M744.8 525.0V603.5M764.0 525.0V603.5M783.2 525.0V603.5M802.3 525.0V603.5M821.5 525.0V603.5M840.7 525.0V603.5" stroke="#000" stroke-width="1" stroke-dasharray="2 2" fill="none"/>
<rect x="348.5" y="525.0" width="493.0" height="78.5" fill="none" stroke="#000" stroke-width="1"/>
<clipPath id="m1"><rect x="136" y="57.0" width="109.5" height="77.30000000000001"/></clipPath>
<g clip-path="url(#m1)">
<rect x="136" y="111.4" width="34" height="22.900000000000006" fill="#87cffa" />
<rect x="170" y="111.4" width="62" height="22.900000000000006" fill="#7dbeeb" />
<rect x="232" y="111.4" width="13.5" height="22.900000000000006" fill="#87cffa" />
<polygon points="134.0,103.0 135.3,103.1 143.2,103.8 156.4,108.4 166.9,111.0 174.8,112.4 185.4,114.3 196.0,117.0 203.8,118.3 211.8,119.0 219.7,116.3 225.0,118.3 231.5,122.3 239.5,116.3 247.0,116.3 247.0,118.0 244.7,118.3 232.9,132.8 222.3,130.2 206.5,127.5 196.0,124.9 182.7,118.3 169.6,114.3 163.0,111.7 135.3,110.4 134.0,110.0" fill="rgba(200,235,255,0.85)" />
<polygon points="134.0,88.0 135.3,88.0 143.2,89.3 156.4,94.6 169.6,101.2 182.7,105.1 196.0,107.7 209.0,109.0 222.3,109.7 232.9,115.7 244.7,106.4 247.0,105.0 247.0,113.0 244.7,114.7 232.9,122.0 225.0,118.9 211.8,118.7 203.8,117.3 185.4,116.0 172.2,114.7 163.0,109.4 149.8,104.2 141.9,102.2 135.3,101.5 134.0,101.5" fill="rgba(255,215,205,0.6)" />
</g>
<path d="M135.5 59.6H245.5M135.5 77.4H245.5M135.5 94.3H245.5M135.5 111.4H245.5M135.5 129.5H245.5" stroke="#000" stroke-width="1" stroke-dasharray="2 2" fill="none"/>
<path d="M143.5 57.0V134.3M164.0 57.0V134.3M184.5 57.0V134.3M204.9 57.0V134.3M225.4 57.0V134.3" stroke="#000" stroke-width="1" stroke-dasharray="2 2" fill="none"/>
<g clip-path="url(#m1)">
<path d="M142.5 69.5V98.5M149.5 78.1V98.5M156.4 86.6V101M163.6 95.9V106.4M170.6 101.2V111.7M177.5 103.1V118.3M184.3 105.8V121M191.3 107.1V123.6M198.3 108.4V125.6M205.2 109V127.5M212.4 109V129.5M219.7 110.4V130.8M226.3 111.7V132.8M233.5 111.7V132.1M240.5 105.8V119.6" stroke="#a81818" stroke-width="1.1" fill="none"/>
<polyline points="134.0,98.5 135.3,98.5 141.9,99.2 149.8,101.2 163.0,106.4 172.2,111.7 185.4,113.0 203.8,114.3 211.8,115.7 225.0,115.9 232.9,119.0 244.7,111.7 247.0,110.0" fill="none" stroke="#ff0000" stroke-width="2.6" stroke-linejoin="round" />
<polyline points="134.0,103.0 135.3,103.1 143.2,103.8 156.4,108.4 166.9,111.0 174.8,112.4 185.4,114.3 196.0,117.0 203.8,118.3 211.8,119.0 219.7,116.3 225.0,118.3 231.5,122.3 239.5,116.3 247.0,116.3" fill="none" stroke="#0000ff" stroke-width="2.6" stroke-linejoin="round" />
<g fill="#7a6ae6"><rect x="140.8" y="111.3" width="3.4" height="3.4"/><rect x="147.8" y="111.3" width="3.4" height="3.4"/><rect x="154.70000000000002" y="113.7" width="3.4" height="3.4"/><rect x="161.9" y="114.0" width="3.4" height="3.4"/><rect x="168.9" y="111.3" width="3.4" height="3.4"/><rect x="175.8" y="113.3" width="3.4" height="3.4"/><rect x="182.60000000000002" y="113.3" width="3.4" height="3.4"/><rect x="189.60000000000002" y="116.6" width="3.4" height="3.4"/><rect x="196.60000000000002" y="116.6" width="3.4" height="3.4"/><rect x="203.5" y="117.89999999999999" width="3.4" height="3.4"/><rect x="210.70000000000002" y="117.89999999999999" width="3.4" height="3.4"/><rect x="218.0" y="118.6" width="3.4" height="3.4"/><rect x="224.60000000000002" y="118.6" width="3.4" height="3.4"/><rect x="231.8" y="119.3" width="3.4" height="3.4"/><rect x="238.8" y="117.89999999999999" width="3.4" height="3.4"/></g>
</g>
<rect x="135.5" y="57.0" width="110.0" height="77.30000000000001" fill="none" stroke="#000" stroke-width="1.2"/>
<clipPath id="m2"><rect x="136" y="143.2" width="109.5" height="77.30000000000001"/></clipPath>
<path d="M135.5 150.2H245.5M135.5 167.8H245.5M135.5 185.4H245.5M135.5 203.0H245.5" stroke="#000" stroke-width="1" stroke-dasharray="2 2" fill="none"/>
<path d="M143.5 143.2V220.5M164.0 143.2V220.5M184.5 143.2V220.5M204.9 143.2V220.5M225.4 143.2V220.5" stroke="#000" stroke-width="1" stroke-dasharray="2 2" fill="none"/>
<g clip-path="url(#m2)">
<rect x="135.5" y="186.6" width="8" height="34" fill="#009c00" />
<rect x="143.4" y="181" width="6" height="40" fill="#009c00" />
<rect x="149" y="179.2" width="8" height="42" fill="#009c00" />
<rect x="156.9" y="202" width="7.2" height="19" fill="#009c00" />
<rect x="164" y="207.3" width="6.2" height="14" fill="#009c00" />
<rect x="170" y="218" width="7" height="3" fill="#00b000" />
<rect x="156.9" y="181.9" width="7.1" height="20.1" fill="#1030d0" />
<rect x="164" y="204.7" width="6" height="2.6" fill="#1030d0" />
<path d="M139.3 173V187M146.4 173V147M153.4 173V147M139.3 173V161" stroke="#00b000" stroke-width="1.3" fill="none"/>
<g fill="#e02020"><rect x="144.9" y="145.5" width="3" height="3"/><rect x="151.9" y="145.5" width="3" height="3"/></g>
<circle cx="139.3" cy="173" r="2.6" fill="#f0e020" stroke="#e05000" stroke-width="1"/>
<circle cx="146.4" cy="173" r="2.6" fill="#f0a020" stroke="#e05000" stroke-width="1"/>
<circle cx="153.4" cy="173" r="2.6" fill="#e02020" stroke="#a00000" stroke-width="1"/>
<path d="M137 220H170" stroke="#e02020" stroke-width="1.2" stroke-dasharray="3 3"/>
<polyline points="134.0,173.0 136.7,172.2 142.9,167.8 148.1,160.8 155.2,155.5 164.0,152.8 184.2,152.0 192.0,148.5 198.2,149.3 207.0,155.5 213.2,155.5 224.6,149.3 232.5,151.1 244.8,163.4 247.0,166.0" fill="none" stroke="#e8501c" stroke-width="2.4" stroke-linejoin="round" />
</g>
<rect x="135.5" y="143.2" width="110.0" height="77.30000000000001" fill="none" stroke="#000" stroke-width="1.2"/>
<clipPath id="m3"><rect x="136" y="229.4" width="109.5" height="76.99999999999997"/></clipPath>
<g clip-path="url(#m3)">
<polygon points="134.0,261.8 135.5,261.6 142.9,260.4 149.0,254.6 157.8,248.4 164.0,248.4 170.6,245.2 178.0,248.4 191.2,253.3 224.6,254.0 244.8,265.1 247.0,266.0 247.0,310.0 134.0,310.0" fill="#ffff00" />
<polygon points="164.8,248.4 169.7,245.8 169.7,310.0 164.8,310.0" fill="#ffd200" />
</g>
<path d="M135.5 231.2H245.5M135.5 254.0H245.5M135.5 277.9H245.5M135.5 301.1H245.5" stroke="#000" stroke-width="1" stroke-dasharray="2 2" fill="none"/>
<path d="M143.5 229.4V306.4M164.0 229.4V306.4M184.5 229.4V306.4M204.9 229.4V306.4M225.4 229.4V306.4" stroke="#000" stroke-width="1" stroke-dasharray="2 2" fill="none"/>
<g clip-path="url(#m3)">
<polyline points="134.0,261.8 135.5,261.6 142.9,260.4 149.0,254.6 157.8,248.4 164.0,248.4 170.6,245.2 178.0,248.4 191.2,253.3 224.6,254.0 244.8,265.1 247.0,266.0" fill="none" stroke="#000" stroke-width="2.4" stroke-linejoin="round" />
</g>
<rect x="135.5" y="229.4" width="110.0" height="76.99999999999997" fill="none" stroke="#000" stroke-width="1.2"/>
<clipPath id="m4"><rect x="136" y="315.5" width="109.5" height="76.5"/></clipPath>
<g clip-path="url(#m4)">
<clipPath id="m4w"><polygon points="134.0,364.0 135.5,364.8 144.6,369.2 155.2,371.8 169.2,374.4 179.8,376.2 197.4,372.7 225.5,372.7 234.3,371.0 244.8,370.0 247.0,370.0 247.0,395.0 134.0,395.0"/></clipPath>
<g clip-path="url(#m4w)">
<rect x="135.5" y="315.5" width="12.599999999999994" height="76.5" fill="#10c010" />
<rect x="148.1" y="315.5" width="21.099999999999994" height="76.5" fill="#008000" />
<rect x="169.2" y="315.5" width="28.200000000000017" height="76.5" fill="#004080" />
<rect x="197.4" y="315.5" width="13.599999999999994" height="76.5" fill="#008000" />
<rect x="211" y="315.5" width="14.099999999999994" height="76.5" fill="#004080" />
<rect x="225.1" y="315.5" width="14.5" height="76.5" fill="#008000" />
<rect x="239.6" y="315.5" width="5.900000000000006" height="76.5" fill="#10c010" />
</g>
</g>
<path d="M135.5 334.5H245.5M135.5 354.6H245.5M135.5 373.6H245.5" stroke="#000" stroke-width="1" stroke-dasharray="2 2" fill="none"/>
<path d="M143.5 315.5V392.0M164.0 315.5V392.0M184.5 315.5V392.0M204.9 315.5V392.0M225.4 315.5V392.0" stroke="#000" stroke-width="1" stroke-dasharray="2 2" fill="none"/>
<g clip-path="url(#m4)">
<polyline points="134.0,364.0 135.5,364.8 144.6,369.2 155.2,371.8 169.2,374.4 179.8,376.2 197.4,372.7 225.5,372.7 234.3,371.0 244.8,370.0 247.0,370.0" fill="none" stroke="#000090" stroke-width="2.4" stroke-linejoin="round" />
<path d="M142.9 340.7H149M148 347.2H155M155 348H162M162 351.6H170M170 355.6H176M176 358.6H185M185 354.2H190M190 351.6H197M197 350.7H211M211 351.6H225.5M225.5 347.5H232.5M232.5 342.8H244.8" stroke="#e01818" stroke-width="1.2" fill="none"/>
<rect x="136.7" y="316" width="2.6" height="2.6" fill="#e01818"/>
</g>
<rect x="135.5" y="315.5" width="110.0" height="76.5" fill="none" stroke="#000" stroke-width="1.2"/>
<path d="M143.5 398.0V430.5M164.0 398.0V430.5M184.5 398.0V430.5M204.9 398.0V430.5M225.4 398.0V430.5" stroke="#000" stroke-width="1" stroke-dasharray="2 2" fill="none"/>
<clipPath id="m5"><rect x="134" y="398.0" width="122" height="32.5"/></clipPath>
<g clip-path="url(#m5)">
<path d="M134.2 406.2L138.6 416.8M141.0 406.2L145.5 416.8M147.8 406.2L152.3 416.8M154.6 406.2L159.1 416.8M161.5 406.2L166.0 416.8M168.3 406.2L172.8 416.8M175.1 406.2L179.6 416.8M182.0 406.2L186.5 416.8M188.8 406.2L193.3 416.8M195.6 406.2L200.1 416.8M202.5 406.2L206.9 416.8M209.3 406.2L213.8 416.8M216.1 406.2L220.6 416.8M222.9 406.2L227.4 416.8M229.8 406.2L234.3 416.8M236.6 406.2L241.1 416.8M243.4 406.2L247.9 416.8" stroke="#1818a8" stroke-width="1.4" fill="none"/>
<path d="M141.2 422.8L135.6 418.1L141.7 415.5ZM148.0 422.8L142.4 418.1L148.5 415.5ZM154.8 422.8L149.3 418.1L155.3 415.5ZM161.7 422.8L156.1 418.1L162.2 415.5ZM168.5 422.8L162.9 418.1L169.0 415.5ZM175.3 422.8L169.8 418.1L175.8 415.5ZM182.2 422.8L176.6 418.1L182.7 415.5ZM189.0 422.8L183.4 418.1L189.5 415.5ZM195.8 422.8L190.2 418.1L196.3 415.5ZM202.7 422.8L197.1 418.1L203.2 415.5ZM209.5 422.8L203.9 418.1L210.0 415.5ZM216.3 422.8L210.7 418.1L216.8 415.5ZM223.1 422.8L217.6 418.1L223.6 415.5ZM230.0 422.8L224.4 418.1L230.5 415.5ZM236.8 422.8L231.2 418.1L237.3 415.5ZM243.6 422.8L238.1 418.1L244.1 415.5ZM250.5 422.8L244.9 418.1L251.0 415.5Z" fill="#1010a0"/>
</g>
<rect x="135.5" y="398.0" width="110.0" height="32.5" fill="none" stroke="#000" stroke-width="1.2"/>
<clipPath id="m6"><rect x="136" y="436.4" width="109.5" height="77.60000000000002"/></clipPath>
<g clip-path="url(#m6)">
<rect x="136" y="436.4" width="34" height="77.60000000000002" fill="#87cffa" />
<rect x="170" y="436.4" width="62" height="77.60000000000002" fill="#7dbeeb" />
<rect x="232" y="436.4" width="13.5" height="77.60000000000002" fill="#87cffa" />
</g>
<path d="M135.5 456.4H245.5M135.5 475.4H245.5M135.5 495.4H245.5" stroke="#000" stroke-width="1" stroke-dasharray="2 2" fill="none"/>
<path d="M143.5 436.4V514.0M164.0 436.4V514.0M184.5 436.4V514.0M204.9 436.4V514.0M225.4 436.4V514.0" stroke="#000" stroke-width="1" stroke-dasharray="2 2" fill="none"/>
<g clip-path="url(#m6)">
<g fill="#dddddd"><circle cx="137.1" cy="504.3" r="2.7"/><circle cx="170.4" cy="489" r="2.7"/><circle cx="218.6" cy="500" r="2.7"/><circle cx="225.7" cy="500" r="2.7"/><circle cx="239.3" cy="500" r="2.7"/></g>
<g fill="#aaaaaa"><circle cx="198.3" cy="485" r="2.7"/><circle cx="211.4" cy="485" r="2.7"/><circle cx="177.6" cy="489" r="2.7"/><circle cx="239.3" cy="493.6" r="2.7"/><circle cx="232.4" cy="500" r="2.7"/><circle cx="184.3" cy="504.3" r="2.7"/></g>
<g fill="#555555"><circle cx="143.3" cy="481.1" r="2.7"/><circle cx="150.4" cy="492.4" r="2.7"/><circle cx="157.6" cy="492.4" r="2.7"/><circle cx="164.3" cy="492.4" r="2.7"/><circle cx="191.4" cy="489" r="2.7"/><circle cx="211.4" cy="481.1" r="2.7"/><circle cx="218.6" cy="489" r="2.7"/><circle cx="225.7" cy="492.4" r="2.7"/><circle cx="232.4" cy="493.6" r="2.7"/><circle cx="184.3" cy="500" r="2.7"/><circle cx="143.3" cy="500" r="2.7"/><circle cx="198.3" cy="468.6" r="2.7"/></g>
<g fill="#ffffff"><circle cx="170.4" cy="492.4" r="2.7"/><circle cx="177.6" cy="492.4" r="2.7"/><circle cx="198.3" cy="492.4" r="2.7"/><circle cx="204.3" cy="492.4" r="2.7"/><circle cx="211.4" cy="492.4" r="2.7"/><circle cx="150.4" cy="500" r="2.7"/><circle cx="164.3" cy="500" r="2.7"/><circle cx="191.4" cy="500" r="2.7"/><circle cx="143.3" cy="505" r="2.7"/><circle cx="184.3" cy="509.3" r="2.7"/><circle cx="218.6" cy="509.3" r="2.7"/><circle cx="225.7" cy="509.3" r="2.7"/><circle cx="232.4" cy="509.3" r="2.7"/><circle cx="239.3" cy="509.3" r="2.7"/></g>
<g fill="#000000"><circle cx="191.1" cy="456.4" r="2.7"/><circle cx="198.3" cy="464.3" r="2.7"/><circle cx="204.3" cy="467.9" r="2.7"/><circle cx="211.4" cy="470" r="2.7"/><circle cx="218.6" cy="481.4" r="2.7"/><circle cx="225.7" cy="485" r="2.7"/><circle cx="232.4" cy="489" r="2.7"/><circle cx="239.3" cy="481.4" r="2.7"/><circle cx="244.7" cy="476.4" r="2.7"/><circle cx="184.3" cy="489" r="2.7"/></g>
<polyline points="134.0,471.0 135.8,470.9 143.6,469.9 151.5,465.0 163.3,463.0 179.0,463.6 189.0,467.9 198.8,470.9 214.6,473.8 230.3,473.8 245.1,469.5 247.0,469.0" fill="none" stroke="#ff9a00" stroke-width="2.4" stroke-linejoin="round" />
<g fill="#b02020"><circle cx="170.4" cy="449.3" r="2.7"/><circle cx="177.6" cy="449.3" r="2.7"/><circle cx="184.3" cy="449.3" r="2.7"/><circle cx="191.4" cy="449.3" r="2.7"/><circle cx="198.6" cy="451.4" r="2.7"/><circle cx="204.3" cy="449.3" r="2.7"/><circle cx="211.4" cy="449.3" r="2.7"/><circle cx="218.6" cy="449.3" r="2.7"/><circle cx="225.7" cy="449.3" r="2.7"/><circle cx="232.4" cy="449.3" r="2.7"/><circle cx="239.3" cy="449.3" r="2.7"/><circle cx="244.7" cy="449.3" r="2.7"/><circle cx="150.3" cy="458.6" r="2.7"/><circle cx="157.4" cy="458.6" r="2.7"/><circle cx="164.3" cy="460" r="2.7"/><circle cx="136.6" cy="475.4" r="2.7"/><circle cx="143.6" cy="475.4" r="2.7"/></g>
</g>
<rect x="135.5" y="436.4" width="110.0" height="77.60000000000002" fill="none" stroke="#000" stroke-width="1.2"/>
<clipPath id="m7"><rect x="136" y="523.4" width="109.5" height="77.80000000000007"/></clipPath>
<g clip-path="url(#m7)">
<rect x="135.5" y="523.4" width="110" height="77.80000000000007" fill="#87cffa" />
<rect x="170" y="523.4" width="62" height="77.80000000000007" fill="#7dbeeb" />
<polygon points="164.6,601.1 166.6,587.0 171.1,571.5 177.5,565.1 183.9,561.2 186.5,557.3 190.4,550.9 195.5,545.1 205.2,543.8 205.2,601.1" fill="#ffffff" />
<polygon points="192.3,570.2 196.8,545.8 197.5,530.9 202.0,532.9 209.7,531.6 214.8,525.8 225.1,523.6 245.8,523.6 245.8,601.1 204.5,601.1 204.5,595.3" fill="#999999" />
<polyline points="195.5,545.1 205.2,543.8 209.7,531.6 214.8,525.8 225.1,524.5 232.9,524.5 238.0,534.2 245.8,544.2" fill="none" stroke="#ffffff" stroke-width="1.3" stroke-linejoin="round" />
<polygon points="135.0,601.1 135.0,575.4 143.4,563.1 149.8,576.7 157.5,583.1 164.6,585.0 166.6,589.5 177.5,592.8 184.6,568.3 191.7,569.6 193.6,574.1 204.5,595.3 207.1,601.1" fill="#555555" />
<polygon points="204.5,601.1 212.3,558.6 218.7,541.9 225.1,534.8 230.9,536.7 238.0,553.5 245.8,567.6 245.8,601.1" fill="#555555" />
<polygon points="135.0,601.1 135.0,593.4 149.2,590.8 164.6,601.1" fill="#333333" />
<polyline points="135.6,589.5 154.3,601.1" fill="none" stroke="#cccccc" stroke-width="0.8" stroke-linejoin="round" />
<polyline points="184.6,599.8 192.3,571.5" fill="none" stroke="#cccccc" stroke-width="0.8" stroke-linejoin="round" />
<g fill="#ffb400"><rect x="217.9" y="589" width="2.6" height="13"/><rect x="224.7" y="589" width="2.6" height="13"/><rect x="231.5" y="589" width="2.6" height="13"/><rect x="238.3" y="589" width="2.6" height="13"/></g>
</g>
<path d="M135.5 543.5H245.5M135.5 562.2H245.5M135.5 582.5H245.5" stroke="#000" stroke-width="1" stroke-dasharray="2 2" fill="none"/>
<path d="M143.5 523.4V601.2M164.0 523.4V601.2M184.5 523.4V601.2M204.9 523.4V601.2M225.4 523.4V601.2" stroke="#000" stroke-width="1" stroke-dasharray="2 2" fill="none"/>
<rect x="135.5" y="523.4" width="110.0" height="77.80000000000007" fill="none" stroke="#000" stroke-width="1.2"/>
<text x="289.9" y="12.9" font-size="12" fill="#000080" text-anchor="start" textLength="146.3" lengthAdjust="spacingAndGlyphs" >wschód słońca: 07:49 CET</text>
<text x="291.9" y="25.7" font-size="12" fill="#000080" text-anchor="start" textLength="142.4" lengthAdjust="spacingAndGlyphs" >zachód słońca: 15:14 CET</text>
<text x="531.9" y="12.9" font-size="12" fill="#000080" text-anchor="start" textLength="127.5" lengthAdjust="spacingAndGlyphs" >21°13'40"E, 53°49'29"N</text>
<text x="554.6" y="25.7" font-size="12" fill="#000080" text-anchor="start" textLength="81" lengthAdjust="spacingAndGlyphs" >(x=253,  y=360)</text>
<text x="738.9" y="12.9" font-size="12" fill="#000080" text-anchor="start" textLength="158.2" lengthAdjust="spacingAndGlyphs" >wysokość (min, środek, max)</text>
<text x="770.5" y="25.7" font-size="12" fill="#000080" text-anchor="start" textLength="96" lengthAdjust="spacingAndGlyphs" >154 - 172 - 185 m</text>
<text x="467" y="42.1" font-size="12.5" fill="#000" text-anchor="start" textLength="56" lengthAdjust="spacingAndGlyphs" >pią, 19.12</text>
<text x="619.2" y="41.7" font-size="12.5" fill="#000" text-anchor="start" textLength="60.5" lengthAdjust="spacingAndGlyphs" >sob, 20.12</text>
<text x="774" y="41.7" font-size="12.5" fill="#000" text-anchor="start" textLength="60.5" lengthAdjust="spacingAndGlyphs" >nie, 21.12</text>
<text x="306.5" y="54.8" font-size="12.5" fill="#000" text-anchor="start" textLength="24.2" lengthAdjust="spacingAndGlyphs" >CET</text>
<text x="859.2" y="55.1" font-size="12.5" fill="#000" text-anchor="start" textLength="24.2" lengthAdjust="spacingAndGlyphs" >CET</text>
<text x="361.5" y="54.8" font-size="12.5" fill="#000" text-anchor="middle" textLength="13" lengthAdjust="spacingAndGlyphs" >16</text>
<text x="399.83299999999997" y="54.8" font-size="12.5" fill="#000" text-anchor="middle" textLength="13" lengthAdjust="spacingAndGlyphs" >22</text>
<text x="438.166" y="54.8" font-size="12.5" fill="#000" text-anchor="middle" textLength="13" lengthAdjust="spacingAndGlyphs" >04</text>
<text x="476.499" y="54.8" font-size="12.5" fill="#000" text-anchor="middle" textLength="13" lengthAdjust="spacingAndGlyphs" >10</text>
<text x="514.832" y="54.8" font-size="12.5" fill="#000" text-anchor="middle" textLength="13" lengthAdjust="spacingAndGlyphs" >16</text>
<text x="553.165" y="54.8" font-size="12.5" fill="#000" text-anchor="middle" textLength="13" lengthAdjust="spacingAndGlyphs" >22</text>
<text x="591.498" y="54.8" font-size="12.5" fill="#000" text-anchor="middle" textLength="13" lengthAdjust="spacingAndGlyphs" >04</text>
<text x="629.831" y="54.8" font-size="12.5" fill="#000" text-anchor="middle" textLength="13" lengthAdjust="spacingAndGlyphs" >10</text>
<text x="668.164" y="54.8" font-size="12.5" fill="#000" text-anchor="middle" textLength="13" lengthAdjust="spacingAndGlyphs" >16</text>
<text x="706.497" y="54.8" font-size="12.5" fill="#000" text-anchor="middle" textLength="13" lengthAdjust="spacingAndGlyphs" >22</text>
<text x="744.8299999999999" y="54.8" font-size="12.5" fill="#000" text-anchor="middle" textLength="13" lengthAdjust="spacingAndGlyphs" >04</text>
<text x="783.163" y="54.8" font-size="12.5" fill="#000" text-anchor="middle" textLength="13" lengthAdjust="spacingAndGlyphs" >10</text>
<text x="821.496" y="54.8" font-size="12.5" fill="#000" text-anchor="middle" textLength="13" lengthAdjust="spacingAndGlyphs" >16</text>
<text x="361.5" y="617.1" font-size="12.5" fill="#000" text-anchor="middle" textLength="13" lengthAdjust="spacingAndGlyphs" >15</text>
<text x="399.83299999999997" y="617.1" font-size="12.5" fill="#000" text-anchor="middle" textLength="13" lengthAdjust="spacingAndGlyphs" >21</text>
<text x="438.166" y="617.1" font-size="12.5" fill="#000" text-anchor="middle" textLength="13" lengthAdjust="spacingAndGlyphs" >03</text>
<text x="476.499" y="617.1" font-size="12.5" fill="#000" text-anchor="middle" textLength="13" lengthAdjust="spacingAndGlyphs" >09</text>
<text x="514.832" y="617.1" font-size="12.5" fill="#000" text-anchor="middle" textLength="13" lengthAdjust="spacingAndGlyphs" >15</text>
<text x="553.165" y="617.1" font-size="12.5" fill="#000" text-anchor="middle" textLength="13" lengthAdjust="spacingAndGlyphs" >21</text>
<text x="591.498" y="617.1" font-size="12.5" fill="#000" text-anchor="middle" textLength="13" lengthAdjust="spacingAndGlyphs" >03</text>
<text x="629.831" y="617.1" font-size="12.5" fill="#000" text-anchor="middle" textLength="13" lengthAdjust="spacingAndGlyphs" >09</text>
<text x="668.164" y="617.1" font-size="12.5" fill="#000" text-anchor="middle" textLength="13" lengthAdjust="spacingAndGlyphs" >15</text>
<text x="706.497" y="617.1" font-size="12.5" fill="#000" text-anchor="middle" textLength="13" lengthAdjust="spacingAndGlyphs" >21</text>
<text x="744.8299999999999" y="617.1" font-size="12.5" fill="#000" text-anchor="middle" textLength="13" lengthAdjust="spacingAndGlyphs" >03</text>
<text x="783.163" y="617.1" font-size="12.5" fill="#000" text-anchor="middle" textLength="13" lengthAdjust="spacingAndGlyphs" >09</text>
<text x="821.496" y="617.1" font-size="12.5" fill="#000" text-anchor="middle" textLength="13" lengthAdjust="spacingAndGlyphs" >15</text>
<text x="306.4" y="617.0" font-size="12.5" fill="#000" text-anchor="start" textLength="24" lengthAdjust="spacingAndGlyphs" >UTC</text>
<text x="859.6" y="616.5" font-size="12.5" fill="#000" text-anchor="start" textLength="23.5" lengthAdjust="spacingAndGlyphs" >UTC</text>
<text x="480.1" y="629.1" font-size="12.5" fill="#000" text-anchor="start" textLength="31.4" lengthAdjust="spacingAndGlyphs" >19.12</text>
<text x="632.4" y="629.1" font-size="12.5" fill="#000" text-anchor="start" textLength="32.3" lengthAdjust="spacingAndGlyphs" >20.12</text>
<text x="786.7" y="629.1" font-size="12.5" fill="#000" text-anchor="start" textLength="31.3" lengthAdjust="spacingAndGlyphs" >21.12</text>
<text x="309.8" y="652.2" font-size="12" fill="#000080" text-anchor="start" textLength="108" lengthAdjust="spacingAndGlyphs" >meteo@icm.edu.pl</text>
<text x="623.2" y="652.2" font-size="12" fill="#000080" text-anchor="start" textLength="252" lengthAdjust="spacingAndGlyphs" >© 2007-2025 ICM, Uniwersytet Warszawski</text>
<text x="0" y="0" font-size="12" fill="#000080" text-anchor="middle" transform="translate(291,96.3) rotate(-90)" textLength="65.7" lengthAdjust="spacingAndGlyphs">temperatura</text>
<text x="0" y="0" font-size="12" fill="#000080" text-anchor="middle" transform="translate(305.2,97) rotate(-90)" textLength="20.3" lengthAdjust="spacingAndGlyphs">(°C)</text>
<text x="0" y="0" font-size="12" fill="#000080" text-anchor="middle" transform="translate(291,183.8) rotate(-90)" textLength="27.6" lengthAdjust="spacingAndGlyphs">opad</text>
<text x="0" y="0" font-size="12" fill="#000080" text-anchor="middle" transform="translate(305.2,181) rotate(-90)" textLength="75.8" lengthAdjust="spacingAndGlyphs">(mm/h, kg/m²/h)</text>
<text x="0" y="0" font-size="12" fill="#000080" text-anchor="middle" transform="translate(291,272.5) rotate(-90)" textLength="48.4" lengthAdjust="spacingAndGlyphs">ciśnienie</text>
<text x="0" y="0" font-size="12" fill="#000080" text-anchor="middle" transform="translate(305.2,272.5) rotate(-90)" textLength="28.4" lengthAdjust="spacingAndGlyphs">(hPa)</text>
<text x="0" y="0" font-size="12" fill="#000080" text-anchor="middle" transform="translate(291,360) rotate(-90)" textLength="23.4" lengthAdjust="spacingAndGlyphs">wiatr</text>
<text x="0" y="0" font-size="12" fill="#000080" text-anchor="middle" transform="translate(305.2,360.8) rotate(-90)" textLength="28.3" lengthAdjust="spacingAndGlyphs">(m/s)</text>
<text x="0" y="0" font-size="12" fill="#000080" text-anchor="middle" transform="translate(291,475) rotate(-90)" textLength="104.5" lengthAdjust="spacingAndGlyphs">pion. rozciągł. chm.</text>
<text x="0" y="0" font-size="12" fill="#000080" text-anchor="middle" transform="translate(305.2,474.2) rotate(-90)" textLength="26.1" lengthAdjust="spacingAndGlyphs">(km)</text>
<text x="0" y="0" font-size="12" fill="#000080" text-anchor="middle" transform="translate(291,570.8) rotate(-90)" textLength="76.5" lengthAdjust="spacingAndGlyphs">zachmurzenie</text>
<text x="0" y="0" font-size="12" fill="#000080" text-anchor="middle" transform="translate(305.2,563) rotate(-90)" textLength="43.5" lengthAdjust="spacingAndGlyphs">(oktanty)</text>
<text x="0" y="0" font-size="12" fill="#000080" text-anchor="middle" transform="translate(904.3,96.4) rotate(-90)" textLength="65.4" lengthAdjust="spacingAndGlyphs">temperatura</text>
<text x="0" y="0" font-size="12" fill="#000080" text-anchor="middle" transform="translate(892.5,96.9) rotate(-90)" textLength="20.3" lengthAdjust="spacingAndGlyphs">(°C)</text>
<text x="0" y="0" font-size="12" fill="#000080" text-anchor="middle" transform="translate(904.3,184.4) rotate(-90)" textLength="89.2" lengthAdjust="spacingAndGlyphs">wilgotność wzgl.</text>
<text x="0" y="0" font-size="12" fill="#000080" text-anchor="middle" transform="translate(892.5,182.9) rotate(-90)" textLength="19.7" lengthAdjust="spacingAndGlyphs">(%)</text>
<text x="0" y="0" font-size="12" fill="#000080" text-anchor="middle" transform="translate(904.3,272.9) rotate(-90)" textLength="47.7" lengthAdjust="spacingAndGlyphs">ciśnienie</text>
<text x="0" y="0" font-size="12" fill="#000080" text-anchor="middle" transform="translate(892.5,273.7) rotate(-90)" textLength="46" lengthAdjust="spacingAndGlyphs">(mm Hg)</text>
<text x="0" y="0" font-size="12" fill="#000080" text-anchor="middle" transform="translate(904.3,361.1) rotate(-90)" textLength="23.8" lengthAdjust="spacingAndGlyphs">wiatr</text>
<text x="0" y="0" font-size="12" fill="#000080" text-anchor="middle" transform="translate(892.5,360.3) rotate(-90)" textLength="35" lengthAdjust="spacingAndGlyphs">(km/h)</text>
<text x="0" y="0" font-size="12" fill="#000080" text-anchor="middle" transform="translate(904.3,475.3) rotate(-90)" textLength="62" lengthAdjust="spacingAndGlyphs">widzialność</text>
<text x="0" y="0" font-size="12" fill="#000080" text-anchor="middle" transform="translate(892.5,474.5) rotate(-90)" textLength="25.4" lengthAdjust="spacingAndGlyphs">(km)</text>
<text x="0" y="0" font-size="12" fill="#000080" text-anchor="middle" transform="translate(904.3,561.9) rotate(-90)" textLength="25.4" lengthAdjust="spacingAndGlyphs">mgła</text>
<text x="0" y="0" font-size="12" fill="#000080" text-anchor="middle" transform="translate(892.5,562.7) rotate(-90)" textLength="42.9" lengthAdjust="spacingAndGlyphs">(frakcja)</text>
<text x="343.7" y="70.2" font-size="11" fill="#000" text-anchor="end" >4</text>
<text x="343.7" y="85.2" font-size="11" fill="#000" text-anchor="end" >2</text>
<text x="343.7" y="100.2" font-size="11" fill="#000" text-anchor="end" >0</text>
<text x="343.7" y="115.2" font-size="11" fill="#000" text-anchor="end" >-2</text>
<text x="343.7" y="130.2" font-size="11" fill="#000" text-anchor="end" >-4</text>
<text x="343.7" y="150.9" font-size="11" fill="#000" text-anchor="end" >5</text>
<text x="343.7" y="165.6" font-size="11" fill="#000" text-anchor="end" >4</text>
<text x="343.7" y="180.3" font-size="11" fill="#000" text-anchor="end" >3</text>
<text x="343.7" y="195.1" font-size="11" fill="#000" text-anchor="end" >2</text>
<text x="343.7" y="209.9" font-size="11" fill="#000" text-anchor="end" >1</text>
<text x="343.7" y="224.7" font-size="11" fill="#000" text-anchor="end" >0</text>
<text x="343.7" y="242.6" font-size="11" fill="#000" text-anchor="end" >1025</text>
<text x="343.7" y="263.4" font-size="11" fill="#000" text-anchor="end" >1020</text>
<text x="343.7" y="283.8" font-size="11" fill="#000" text-anchor="end" >1015</text>
<text x="343.7" y="303.9" font-size="11" fill="#000" text-anchor="end" >1010</text>
<text x="343.7" y="322.8" font-size="11" fill="#000" text-anchor="end" >15</text>
<text x="343.7" y="347.7" font-size="11" fill="#000" text-anchor="end" >10</text>
<text x="343.7" y="373.4" font-size="11" fill="#000" text-anchor="end" >5</text>
<text x="343.7" y="398.5" font-size="11" fill="#000" text-anchor="end" >0</text>
<text x="343.7" y="442.3" font-size="11" fill="#000" text-anchor="end" >15.0</text>
<text x="343.7" y="461.4" font-size="11" fill="#000" text-anchor="end" >7.0</text>
<text x="343.7" y="480.6" font-size="11" fill="#000" text-anchor="end" >2.0</text>
<text x="343.7" y="500.0" font-size="11" fill="#000" text-anchor="end" >0.5</text>
<text x="343.7" y="518.6" font-size="11" fill="#000" text-anchor="end" >0.0</text>
<text x="343.7" y="529.2" font-size="11" fill="#000" text-anchor="end" >8</text>
<text x="343.7" y="548.2" font-size="11" fill="#000" text-anchor="end" >6</text>
<text x="343.7" y="568.0" font-size="11" fill="#000" text-anchor="end" >4</text>
<text x="343.7" y="587.4" font-size="11" fill="#000" text-anchor="end" >2</text>
<text x="343.7" y="606.8" font-size="11" fill="#000" text-anchor="end" >0</text>
<text x="853.4" y="69.9" font-size="11" fill="#000" text-anchor="end" >4</text>
<text x="853.4" y="84.9" font-size="11" fill="#000" text-anchor="end" >2</text>
<text x="853.4" y="99.9" font-size="11" fill="#000" text-anchor="end" >0</text>
<text x="853.4" y="114.9" font-size="11" fill="#000" text-anchor="end" >-2</text>
<text x="853.4" y="129.9" font-size="11" fill="#000" text-anchor="end" >-4</text>
<text x="862.8" y="150.9" font-size="11" fill="#e8501c" text-anchor="end" >100</text>
<text x="862.8" y="165.6" font-size="11" fill="#e8501c" text-anchor="end" >95</text>
<text x="862.8" y="180.3" font-size="11" fill="#e8501c" text-anchor="end" >90</text>
<text x="862.8" y="195.1" font-size="11" fill="#e8501c" text-anchor="end" >85</text>
<text x="862.8" y="209.9" font-size="11" fill="#e8501c" text-anchor="end" >80</text>
<text x="862.8" y="224.7" font-size="11" fill="#e8501c" text-anchor="end" >75</text>
<text x="844.5" y="242.7" font-size="11" fill="#000" text-anchor="start" >769</text>
<text x="844.5" y="262.7" font-size="11" fill="#000" text-anchor="start" >765</text>
<text x="844.5" y="282.4" font-size="11" fill="#000" text-anchor="start" >761</text>
<text x="844.5" y="302.4" font-size="11" fill="#000" text-anchor="start" >758</text>
<text x="844.5" y="322.2" font-size="11" fill="#000" text-anchor="start" >54</text>
<text x="844.5" y="347.6" font-size="11" fill="#000" text-anchor="start" >36</text>
<text x="844.5" y="373.0" font-size="11" fill="#000" text-anchor="start" >18</text>
<text x="847" y="397.8" font-size="11" fill="#000" text-anchor="start" >0</text>
<text x="844.5" y="441.1" font-size="11" fill="#ff8c00" text-anchor="start" >100</text>
<text x="844.5" y="461.1" font-size="11" fill="#ff8c00" text-anchor="start" >20</text>
<text x="844.5" y="479.9" font-size="11" fill="#ff8c00" text-anchor="start" >5</text>
<text x="844.5" y="499.3" font-size="11" fill="#ff8c00" text-anchor="start" >1</text>
<text x="844.5" y="519.0" font-size="11" fill="#ff8c00" text-anchor="start" >0</text>
<text x="844.5" y="528.5" font-size="11" fill="#ff8c00" text-anchor="start" >1</text>
<text x="844.5" y="547.6" font-size="11" fill="#ff8c00" text-anchor="start" >0.75</text>
<text x="844.5" y="568.2" font-size="11" fill="#ff8c00" text-anchor="start" >0.5</text>
<text x="844.5" y="587.3" font-size="11" fill="#ff8c00" text-anchor="start" >0.25</text>
<text x="844.5" y="606.4" font-size="11" fill="#ff8c00" text-anchor="start" >0</text>
<text x="266.3" y="62.3" font-size="10.5" fill="#000" text-anchor="end" >30</text>
<text x="266.3" y="80.0" font-size="10.5" fill="#000" text-anchor="end" >20</text>
<text x="266.3" y="96.9" font-size="10.5" fill="#000" text-anchor="end" >10</text>
<text x="266.3" y="114.1" font-size="10.5" fill="#000" text-anchor="end" >0</text>
<text x="266.3" y="131.8" font-size="10.5" fill="#000" text-anchor="end" >-10</text>
<text x="266.0" y="153.6" font-size="10.5" fill="#e8501c" text-anchor="end" >96</text>
<text x="266.0" y="171.4" font-size="10.5" fill="#e8501c" text-anchor="end" >84</text>
<text x="266.0" y="189.0" font-size="10.5" fill="#e8501c" text-anchor="end" >73</text>
<text x="266.0" y="206.8" font-size="10.5" fill="#e8501c" text-anchor="end" >61</text>
<text x="266.0" y="223.2" font-size="10.5" fill="#e8501c" text-anchor="end" >50</text>
<text x="251" y="234.5" font-size="10.5" fill="#000" text-anchor="start" >1018</text>
<text x="251" y="257.2" font-size="10.5" fill="#000" text-anchor="start" >1016</text>
<text x="251" y="280.9" font-size="10.5" fill="#000" text-anchor="start" >1014</text>
<text x="251" y="304.1" font-size="10.5" fill="#000" text-anchor="start" >1012</text>
<text x="251" y="317.7" font-size="10.5" fill="#000" text-anchor="start" >72</text>
<text x="251" y="337.4" font-size="10.5" fill="#000" text-anchor="start" >54</text>
<text x="251" y="357.3" font-size="10.5" fill="#000" text-anchor="start" >36</text>
<text x="251" y="376.4" font-size="10.5" fill="#000" text-anchor="start" >18</text>
<text x="254.5" y="394.6" font-size="10.5" fill="#000" text-anchor="start" >0</text>
<text x="250.7" y="439.5" font-size="10.5" fill="#ff8c00" text-anchor="start" >100</text>
<text x="250.7" y="459.3" font-size="10.5" fill="#ff8c00" text-anchor="start" >20</text>
<text x="250.7" y="478.4" font-size="10.5" fill="#ff8c00" text-anchor="start" >5</text>
<text x="250.7" y="498.4" font-size="10.5" fill="#ff8c00" text-anchor="start" >1</text>
<text x="250.7" y="516.5" font-size="10.5" fill="#ff8c00" text-anchor="start" >0</text>
<text x="250.7" y="526.1" font-size="10.5" fill="#ff8c00" text-anchor="start" >1</text>
<text x="250.7" y="546.1" font-size="10.5" fill="#ff8c00" text-anchor="start" >0.75</text>
<text x="250.7" y="565.2" font-size="10.5" fill="#ff8c00" text-anchor="start" >0.5</text>
<text x="250.7" y="585.3" font-size="10.5" fill="#ff8c00" text-anchor="start" >0.25</text>
<text x="250.7" y="604.4" font-size="10.5" fill="#ff8c00" text-anchor="start" >0</text>
<text x="164" y="51.3" font-size="12" fill="#000" text-anchor="middle" textLength="12.6" lengthAdjust="spacingAndGlyphs" >20</text>
<text x="204" y="51.3" font-size="12" fill="#000" text-anchor="middle" textLength="12.6" lengthAdjust="spacingAndGlyphs" >02</text>
<text x="245" y="51.3" font-size="12" fill="#000" text-anchor="middle" textLength="12.6" lengthAdjust="spacingAndGlyphs" >08</text>
<text x="163.8" y="614" font-size="12" fill="#000" text-anchor="middle" textLength="12.8" lengthAdjust="spacingAndGlyphs" >18</text>
<text x="204.2" y="614" font-size="12" fill="#000" text-anchor="middle" textLength="12.8" lengthAdjust="spacingAndGlyphs" >00</text>
<text x="244.6" y="614" font-size="12" fill="#000" text-anchor="middle" textLength="12.8" lengthAdjust="spacingAndGlyphs" >06</text>
<text x="128.5" y="62.7" font-size="10.5" fill="#000" text-anchor="end" >30</text>
<text x="128.5" y="80.0" font-size="10.5" fill="#000" text-anchor="end" >20</text>
<text x="128.5" y="96.9" font-size="10.5" fill="#000" text-anchor="end" >10</text>
<text x="128.5" y="113.8" font-size="10.5" fill="#000" text-anchor="end" >0</text>
<text x="128.5" y="132.3" font-size="10.5" fill="#000" text-anchor="end" >-10</text>
<text x="128.5" y="154.0" font-size="10.5" fill="#000" text-anchor="end" >2.0</text>
<text x="128.5" y="170.9" font-size="10.5" fill="#000" text-anchor="end" >1.5</text>
<text x="128.5" y="189.0" font-size="10.5" fill="#000" text-anchor="end" >1.0</text>
<text x="128.5" y="205.5" font-size="10.5" fill="#000" text-anchor="end" >0.5</text>
<text x="128.5" y="222.7" font-size="10.5" fill="#000" text-anchor="end" >0.0</text>
<text x="128.5" y="233.6" font-size="10.5" fill="#000" text-anchor="end" >1018</text>
<text x="128.5" y="258.2" font-size="10.5" fill="#000" text-anchor="end" >1016</text>
<text x="128.5" y="281.2" font-size="10.5" fill="#000" text-anchor="end" >1014</text>
<text x="128.5" y="304.2" font-size="10.5" fill="#000" text-anchor="end" >1012</text>
<text x="128.5" y="318.7" font-size="10.5" fill="#000" text-anchor="end" >20</text>
<text x="128.5" y="337.0" font-size="10.5" fill="#000" text-anchor="end" >15</text>
<text x="128.5" y="357.0" font-size="10.5" fill="#000" text-anchor="end" >10</text>
<text x="128.5" y="375.6" font-size="10.5" fill="#000" text-anchor="end" >5</text>
<text x="128.5" y="395.0" font-size="10.5" fill="#000" text-anchor="end" >0</text>
<text x="128.5" y="439.5" font-size="10.5" fill="#000" text-anchor="end" >15.0</text>
<text x="128.5" y="458.6" font-size="10.5" fill="#000" text-anchor="end" >7.0</text>
<text x="128.5" y="478.8" font-size="10.5" fill="#000" text-anchor="end" >2.0</text>
<text x="128.5" y="497.9" font-size="10.5" fill="#000" text-anchor="end" >0.5</text>
<text x="128.5" y="517.0" font-size="10.5" fill="#000" text-anchor="end" >0.0</text>
<text x="128.5" y="526.1" font-size="10.5" fill="#000" text-anchor="end" >8</text>
<text x="128.5" y="546.5" font-size="10.5" fill="#000" text-anchor="end" >6</text>
<text x="128.5" y="565.6" font-size="10.5" fill="#000" text-anchor="end" >4</text>
<text x="128.5" y="585.3" font-size="10.5" fill="#000" text-anchor="end" >2</text>
<text x="128.5" y="604.4" font-size="10.5" fill="#000" text-anchor="end" >0</text>
<text x="5.8" y="18.5" font-size="11" fill="#000" text-anchor="start" textLength="58.8" lengthAdjust="spacingAndGlyphs" >Czas lokalny</text>
<text x="5.8" y="29.2" font-size="10" fill="#000" textLength="54.2" lengthAdjust="spacing">(CET/CEST)</text>
<text x="6" y="45.8" font-size="11" fill="#b22222" text-anchor="start" textLength="94" lengthAdjust="spacingAndGlyphs" >Temperatura gruntu</text>
<text x="28" y="55.4" font-size="11" fill="#b22222" text-anchor="start" textLength="38" lengthAdjust="spacingAndGlyphs" >max/min</text>
<text x="5" y="67.5" font-size="11" fill="#000" text-anchor="start" textLength="62" lengthAdjust="spacingAndGlyphs" >Temperatura:</text>
<text x="12.6" y="79.7" font-size="11" fill="#ff0000" text-anchor="start" textLength="77.4" lengthAdjust="spacingAndGlyphs" >punkt środkowy</text>
<text x="28" y="89.2" font-size="11" fill="#ffd0c4" text-anchor="start" textLength="38" lengthAdjust="spacingAndGlyphs" >max/min</text>
<text x="10" y="101.5" font-size="11" fill="#0000ff" text-anchor="start" textLength="57" lengthAdjust="spacingAndGlyphs" >odczuwana</text>
<text x="28" y="111.5" font-size="11" fill="#b8e2ff" text-anchor="start" textLength="38" lengthAdjust="spacingAndGlyphs" >max/min</text>
<text x="6" y="123" font-size="11" fill="#6a5acd" text-anchor="start" textLength="87" lengthAdjust="spacingAndGlyphs" >Temp. punktu rosy</text>
<text x="6" y="140.9" font-size="11" fill="#ff0000" text-anchor="start" textLength="94" lengthAdjust="spacingAndGlyphs" >Opad powyżej skali</text>
<text x="6" y="154.5" font-size="11" fill="#e8501c" text-anchor="start" textLength="97" lengthAdjust="spacingAndGlyphs" >Wilgotność względna</text>
<text x="6" y="168.5" font-size="11" fill="#000" text-anchor="start" textLength="84" lengthAdjust="spacingAndGlyphs" >Wystąpienie burzy</text>
<text x="6" y="182.2" font-size="11" fill="#00b000" text-anchor="start" textLength="63" lengthAdjust="spacingAndGlyphs" >Deszcz: max</text>
<text x="49" y="193.6" font-size="11" fill="#00b000" text-anchor="start" textLength="29" lengthAdjust="spacingAndGlyphs" >średni</text>
<text x="6" y="204.5" font-size="11" fill="#2222dd" text-anchor="start" textLength="30" lengthAdjust="spacingAndGlyphs" >Śnieg:</text>
<text x="49" y="204.5" font-size="11" fill="#2222dd" text-anchor="start" textLength="19" lengthAdjust="spacingAndGlyphs" >max</text>
<text x="49" y="215.5" font-size="11" fill="#2222dd" text-anchor="start" textLength="29" lengthAdjust="spacingAndGlyphs" >średni</text>
<text x="6" y="227.3" font-size="11" fill="#ff0000" text-anchor="start" textLength="88" lengthAdjust="spacingAndGlyphs" >Wystąpienie opadu</text>
<text x="6" y="240" font-size="11" fill="#ff0000" text-anchor="start" textLength="71" lengthAdjust="spacingAndGlyphs" >konwekcyjnego</text>
<text x="5" y="266.2" font-size="11" fill="#000" text-anchor="start" textLength="42" lengthAdjust="spacingAndGlyphs" >Ciśnienie</text>
<text x="5" y="279.2" font-size="11" fill="#000" text-anchor="start" textLength="66" lengthAdjust="spacingAndGlyphs" >zredukowane</text>
<text x="5" y="292" font-size="11" fill="#000" text-anchor="start" textLength="87" lengthAdjust="spacingAndGlyphs" >do poziomu morza</text>
<text x="5" y="321.1" font-size="11" fill="#000">Wiatr na <tspan font-family="Liberation Serif">10m</tspan>:</text>
<text x="10" y="336.9" font-size="11" fill="#ff0000" text-anchor="start" textLength="100" lengthAdjust="spacingAndGlyphs" >poryw powyżej skali</text>
<text x="10" y="351.4" font-size="11" fill="#ff0000" text-anchor="start" textLength="94" lengthAdjust="spacingAndGlyphs" >max porywy wiatru</text>
<text x="10" y="370.8" font-size="11" fill="#000088" text-anchor="start" textLength="78" lengthAdjust="spacingAndGlyphs" >prędkość wiatru</text>
<text x="10" y="384.1" font-size="11" fill="#000088" text-anchor="start" textLength="88" lengthAdjust="spacingAndGlyphs" >w środku obszaru</text>
<text x="9" y="412.4" font-size="11" fill="#000088" text-anchor="start" textLength="74" lengthAdjust="spacingAndGlyphs" >kierunek wiatru</text>
<text x="6" y="432.1" font-size="11" fill="#b22222" text-anchor="start" textLength="91" lengthAdjust="spacingAndGlyphs" >Wierzchołek chmur</text>
<text x="5" y="447.4" font-size="11" fill="#000" text-anchor="start" textLength="86" lengthAdjust="spacingAndGlyphs" >Podstawa chmur*</text>
<text x="5" y="458.6" font-size="11" fill="#000" text-anchor="start" textLength="48" lengthAdjust="spacingAndGlyphs" >o pokryciu</text>
<text x="10" y="471.4" font-size="11" fill="#000" text-anchor="start" textLength="45" lengthAdjust="spacingAndGlyphs" >&gt; 7.9 okt.</text>
<text x="10" y="482.0" font-size="11" fill="#555" text-anchor="start" textLength="45" lengthAdjust="spacingAndGlyphs" >&gt; 6.5 okt.</text>
<text x="10" y="493.2" font-size="11" fill="#aaa" text-anchor="start" textLength="45" lengthAdjust="spacingAndGlyphs" >&gt; 4.5 okt.</text>
<text x="10" y="503.2" font-size="11" fill="#ddd" text-anchor="start" textLength="45" lengthAdjust="spacingAndGlyphs" >&gt; 2.5 okt.</text>
<rect x="11" y="505.3" width="44" height="11" fill="#87cefa" />
<text x="12" y="513.8" font-size="11" fill="#fff" text-anchor="start" textLength="43" lengthAdjust="spacingAndGlyphs" >&gt; 0.1 okt.</text>
<text x="6" y="528.6" font-size="11" fill="#ff8c00" text-anchor="start" textLength="57" lengthAdjust="spacingAndGlyphs" >Widzialność</text>
<text x="5" y="547.2" font-size="11" fill="#000" text-anchor="start" textLength="39" lengthAdjust="spacingAndGlyphs" >Chmury:</text>
<rect x="10" y="550.8" width="41" height="11.6" fill="#87cefa" />
<text x="11" y="559.9" font-size="11" fill="#fff" text-anchor="start" textLength="39" lengthAdjust="spacingAndGlyphs" >wysokie</text>
<text x="10" y="572" font-size="11" fill="#aaaaaa" text-anchor="start" textLength="35" lengthAdjust="spacingAndGlyphs" >średnie</text>
<text x="10" y="584" font-size="11" fill="#555" text-anchor="start" textLength="26" lengthAdjust="spacingAndGlyphs" >niskie</text>
<text x="10" y="596" font-size="11" fill="#333" text-anchor="start" textLength="61" lengthAdjust="spacingAndGlyphs" >bardzo niskie</text>
<text x="5" y="608.7" font-size="11" fill="#ffb000" text-anchor="start" textLength="22" lengthAdjust="spacingAndGlyphs" >Mgła</text>
<text x="5" y="625.6" font-size="11.3" fill="#000" textLength="132" lengthAdjust="spacing">Czas uniwersalny (UTC)</text>
<text x="5" y="650.5" font-size="9" fill="#000" text-anchor="start" textLength="103" lengthAdjust="spacingAndGlyphs" >* powyżej poziomu morza</text>
<text x="883" y="419.8" font-size="12" fill="#000080" text-anchor="start" textLength="11.2" lengthAdjust="spacingAndGlyphs" >W</text>
<text x="894.2" y="411.4" font-size="12" fill="#000080" text-anchor="start" textLength="7" lengthAdjust="spacingAndGlyphs" >N</text>
<text x="901.2" y="419.8" font-size="12" fill="#000080" text-anchor="start" textLength="5.8" lengthAdjust="spacingAndGlyphs" >E</text>
<text x="894" y="427.7" font-size="12" fill="#000080" text-anchor="start" textLength="6.3" lengthAdjust="spacingAndGlyphs" >S</text>
<text x="283.5" y="419.8" font-size="12" fill="#000080" text-anchor="start" textLength="11.2" lengthAdjust="spacingAndGlyphs" >W</text>
<text x="294.70000000000005" y="411.4" font-size="12" fill="#000080" text-anchor="start" textLength="7" lengthAdjust="spacingAndGlyphs" >N</text>
<text x="301.70000000000005" y="419.8" font-size="12" fill="#000080" text-anchor="start" textLength="5.8" lengthAdjust="spacingAndGlyphs" >E</text>
<text x="294.5" y="427.7" font-size="12" fill="#000080" text-anchor="start" textLength="6.3" lengthAdjust="spacingAndGlyphs" >S</text>
<polyline points="67.9,16.5 132.9,16.5 155.6,45.3" fill="none" stroke="#000" stroke-width="1" stroke-linejoin="round" stroke-linejoin="miter"/>
<polyline points="102.4,43.7 119.1,43.7 149.7,88.7" fill="none" stroke="#b22222" stroke-width="1" stroke-linejoin="round" stroke-linejoin="miter"/>
<polyline points="91.5,75.9 115.2,75.9" fill="none" stroke="#ff0000" stroke-width="1" stroke-linejoin="round" stroke-linejoin="miter"/>
<polyline points="130.0,75.9 133.0,76.5 176.3,112.3" fill="none" stroke="#ff0000" stroke-width="1" stroke-linejoin="round" stroke-linejoin="miter"/>
<polyline points="69.9,99.5 132.9,99.5 137.0,103.0" fill="none" stroke="#0000ff" stroke-width="1" stroke-linejoin="round" stroke-linejoin="miter"/>
<polyline points="94.5,120.2 130.0,120.2 142.8,113.3" fill="none" stroke="#6a5acd" stroke-width="1" stroke-linejoin="round" stroke-linejoin="miter"/>
<polyline points="103.2,137.5 141.0,137.5 146.0,147.7" fill="none" stroke="#ff0000" stroke-width="1" stroke-linejoin="round" stroke-linejoin="miter"/>
<polyline points="106.6,150.9 112.0,150.9" fill="none" stroke="#e8501c" stroke-width="1" stroke-linejoin="round" stroke-linejoin="miter"/>
<polyline points="130.2,150.3 146.0,159.5" fill="none" stroke="#e8501c" stroke-width="1" stroke-linejoin="round" stroke-linejoin="miter"/>
<polyline points="94.8,166.4 112.5,166.4" fill="none" stroke="#000" stroke-width="1" stroke-linejoin="round" stroke-linejoin="miter"/>
<polyline points="130.2,166.0 133.0,166.0 137.1,172.3" fill="none" stroke="#000" stroke-width="1" stroke-linejoin="round" stroke-linejoin="miter"/>
<polyline points="70.0,179.2 136.1,179.2" fill="none" stroke="#00b000" stroke-width="1" stroke-linejoin="round" stroke-linejoin="miter"/>
<polyline points="80.0,190.0 136.0,190.0" fill="none" stroke="#00b000" stroke-width="1" stroke-linejoin="round" stroke-linejoin="miter"/>
<polyline points="70.0,202.8 111.6,202.8" fill="none" stroke="#2222dd" stroke-width="1" stroke-linejoin="round" stroke-linejoin="miter"/>
<polyline points="129.0,202.8 131.2,202.8 160.7,171.3" fill="none" stroke="#2222dd" stroke-width="1" stroke-linejoin="round" stroke-linejoin="miter"/>
<polyline points="80.0,213.7 131.2,213.7 157.8,187.1" fill="none" stroke="#2222dd" stroke-width="1" stroke-linejoin="round" stroke-linejoin="miter"/>
<polyline points="97.7,225.5 144.0,225.5 147.9,219.6" fill="none" stroke="#ff0000" stroke-width="1" stroke-linejoin="round" stroke-linejoin="miter"/>
<polyline points="50.6,264.6 130.2,264.6 135.5,262.0" fill="none" stroke="#000" stroke-width="1" stroke-linejoin="round" stroke-linejoin="miter"/>
<polyline points="112.2,334.6 117.5,334.6" fill="none" stroke="#ff0000" stroke-width="1" stroke-linejoin="round" stroke-linejoin="miter"/>
<polyline points="130.2,334.6 139.8,316.6" fill="none" stroke="#ff0000" stroke-width="1" stroke-linejoin="round" stroke-linejoin="miter"/>
<polyline points="107.5,348.0 131.3,348.0 140.0,341.0" fill="none" stroke="#ff0000" stroke-width="1" stroke-linejoin="round" stroke-linejoin="miter"/>
<polyline points="92.0,366.5 135.5,366.5" fill="none" stroke="#000088" stroke-width="1" stroke-linejoin="round" stroke-linejoin="miter"/>
<polyline points="86.2,409.5 139.6,409.5 142.0,413.0" fill="none" stroke="#000088" stroke-width="1" stroke-linejoin="round" stroke-linejoin="miter"/>
<polyline points="100.4,430.3 131.2,430.3 184.3,448.6" fill="none" stroke="#b22222" stroke-width="1" stroke-linejoin="round" stroke-linejoin="miter"/>
<polyline points="57.0,468.3 133.3,468.3 191.0,456.4" fill="none" stroke="#000" stroke-width="1" stroke-linejoin="round" stroke-linejoin="miter"/>
<polyline points="57.0,480.1 142.8,480.1" fill="none" stroke="#555" stroke-width="1" stroke-linejoin="round" stroke-linejoin="miter"/>
<polyline points="57.0,490.5 131.2,490.5 143.9,499.6" fill="none" stroke="#999" stroke-width="1" stroke-linejoin="round" stroke-linejoin="miter"/>
<polyline points="57.0,500.3 133.3,500.3 137.0,504.0" fill="none" stroke="#ccc" stroke-width="1" stroke-linejoin="round" stroke-linejoin="miter"/>
<polyline points="57.0,509.2 136.5,509.2" fill="none" stroke="#87cefa" stroke-width="1" stroke-linejoin="round" stroke-linejoin="miter"/>
<polyline points="57.0,512.0 136.5,512.0" fill="none" stroke="#87cefa" stroke-width="1" stroke-linejoin="round" stroke-linejoin="miter"/>
<polyline points="67.6,527.2 129.0,527.2 173.6,465.0" fill="none" stroke="#ff8c00" stroke-width="1" stroke-linejoin="round" stroke-linejoin="miter"/>
<polyline points="54.2,556.3 186.5,556.3" fill="none" stroke="#87cefa" stroke-width="1" stroke-linejoin="round" stroke-linejoin="miter"/>
<polyline points="54.2,558.3 186.5,558.3" fill="none" stroke="#87cefa" stroke-width="1" stroke-linejoin="round" stroke-linejoin="miter"/>
<polyline points="49.2,571.5 191.7,571.5" fill="none" stroke="#999" stroke-width="1" stroke-linejoin="round" stroke-linejoin="miter"/>
<polyline points="36.0,582.5 121.7,582.5" fill="none" stroke="#555" stroke-width="1" stroke-linejoin="round" stroke-linejoin="miter"/>
<polyline points="130.0,582.5 150.0,582.5" fill="none" stroke="#555" stroke-width="1" stroke-linejoin="round" stroke-linejoin="miter"/>
<polyline points="74.2,594.2 143.3,594.2" fill="none" stroke="#333" stroke-width="1" stroke-linejoin="round" stroke-linejoin="miter"/>
<polyline points="29.0,605.3 218.0,605.3 220.0,601.0" fill="none" stroke="#ffb000" stroke-width="1" stroke-linejoin="round" stroke-linejoin="miter"/>
<polyline points="139.2,623.3 148.3,623.3 156.7,611.7" fill="none" stroke="#000" stroke-width="1" stroke-linejoin="round" stroke-linejoin="miter"/>
</svg></body></html>
